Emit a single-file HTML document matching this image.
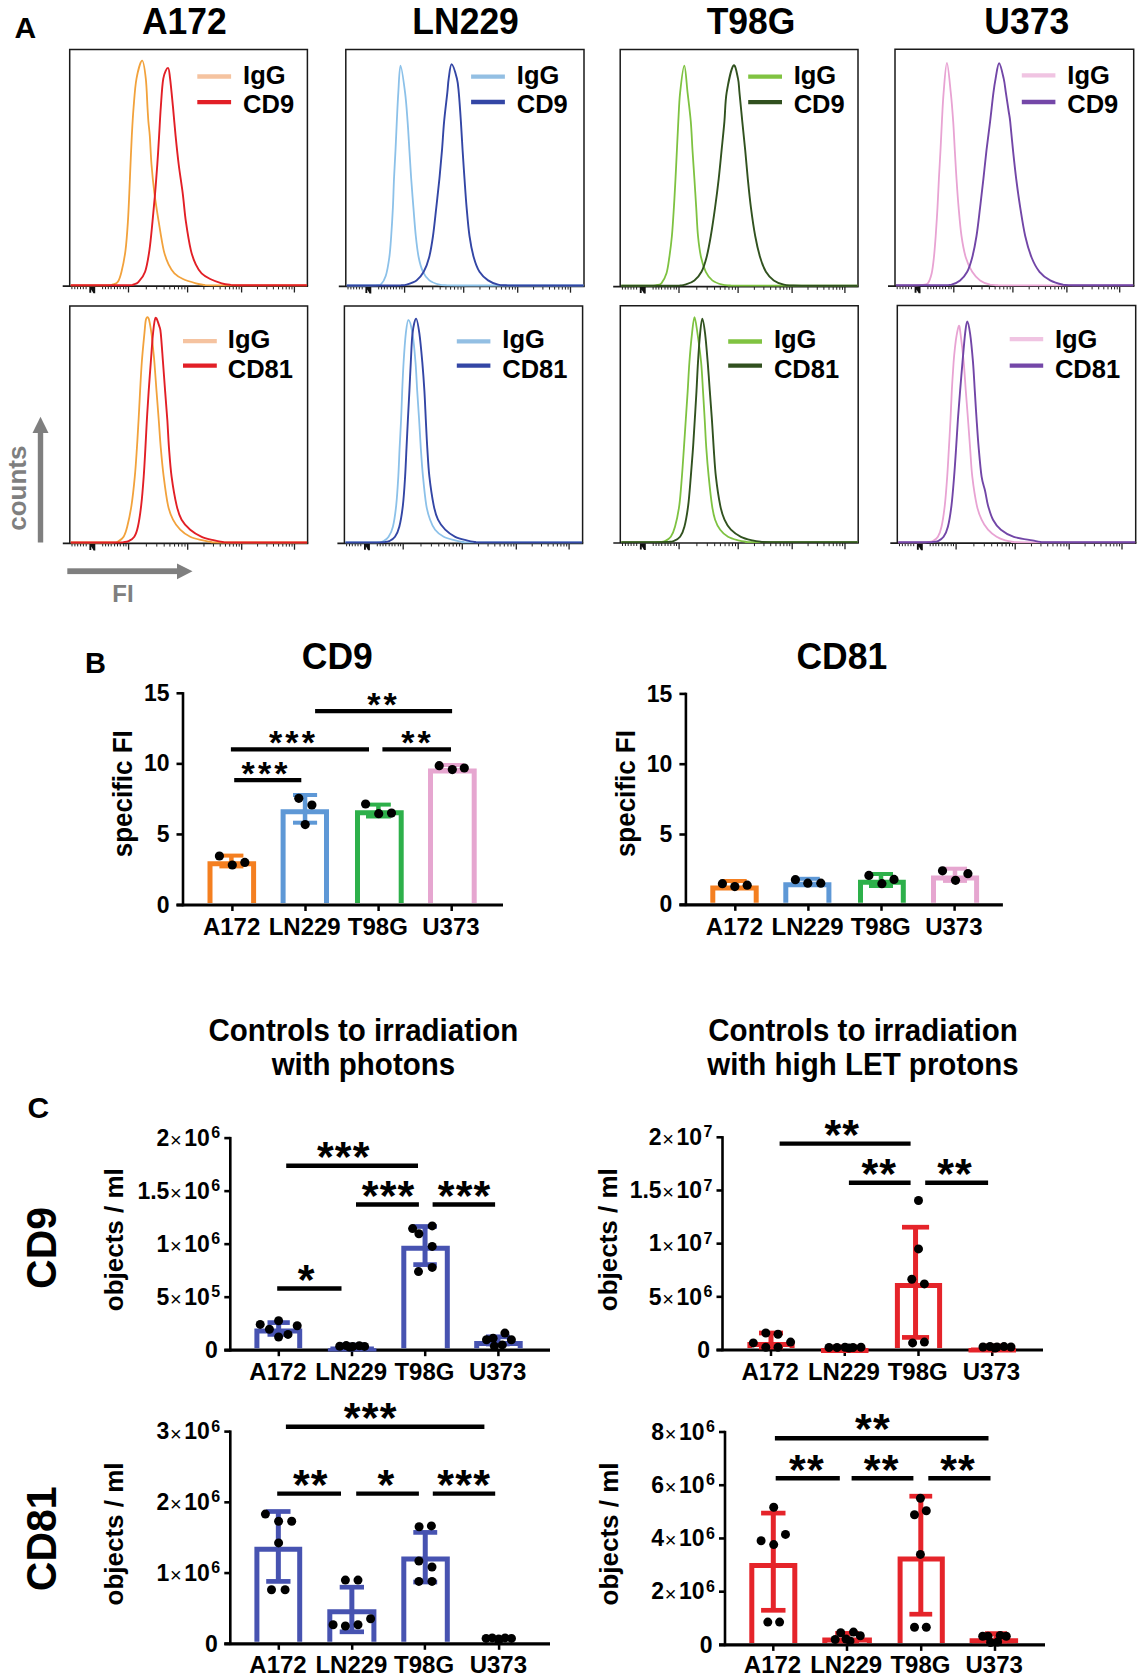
<!DOCTYPE html>
<html><head><meta charset="utf-8"><title>Figure</title>
<style>
html,body{margin:0;padding:0;background:#fff;}
body{width:1144px;height:1677px;overflow:hidden;}
svg{display:block;}
text{font-family:"Liberation Sans",sans-serif;}
</style></head>
<body>
<svg width="1144" height="1677" viewBox="0 0 1144 1677">
<rect width="1144" height="1677" fill="#fff"/>
<text transform="translate(14.50,38.00) scale(1,1.0)" font-size="30" font-weight="bold" text-anchor="start" fill="#000" >A</text>
<text transform="translate(184.30,34.20) scale(1,1.035)" font-size="35.5" font-weight="bold" text-anchor="middle" fill="#000" >A172</text>
<text transform="translate(465.60,34.20) scale(1,1.035)" font-size="35.5" font-weight="bold" text-anchor="middle" fill="#000" >LN229</text>
<text transform="translate(751.00,34.20) scale(1,1.035)" font-size="35.5" font-weight="bold" text-anchor="middle" fill="#000" >T98G</text>
<text transform="translate(1026.70,34.20) scale(1,1.035)" font-size="35.5" font-weight="bold" text-anchor="middle" fill="#000" >U373</text>
<path d="M69.70,286.20 L69.70,49.40 L307.40,49.40 L307.40,286.20" fill="none" stroke="#1a1a1a" stroke-width="1.5"/>
<line x1="62.70" y1="286.20" x2="308.10" y2="286.20" stroke="#1a1a1a" stroke-width="1.7" stroke-linecap="butt"/>
<line x1="128.50" y1="286.20" x2="128.50" y2="292.50" stroke="#222" stroke-width="1.3" stroke-linecap="butt"/>
<line x1="187.60" y1="286.20" x2="187.60" y2="292.50" stroke="#222" stroke-width="1.3" stroke-linecap="butt"/>
<line x1="241.60" y1="286.20" x2="241.60" y2="292.50" stroke="#222" stroke-width="1.3" stroke-linecap="butt"/>
<line x1="294.40" y1="286.20" x2="294.40" y2="292.50" stroke="#222" stroke-width="1.3" stroke-linecap="butt"/>
<line x1="146.29" y1="286.20" x2="146.29" y2="289.40" stroke="#222" stroke-width="1.0" stroke-linecap="butt"/>
<line x1="156.70" y1="286.20" x2="156.70" y2="289.40" stroke="#222" stroke-width="1.0" stroke-linecap="butt"/>
<line x1="164.08" y1="286.20" x2="164.08" y2="289.40" stroke="#222" stroke-width="1.0" stroke-linecap="butt"/>
<line x1="169.81" y1="286.20" x2="169.81" y2="289.40" stroke="#222" stroke-width="1.0" stroke-linecap="butt"/>
<line x1="174.49" y1="286.20" x2="174.49" y2="289.40" stroke="#222" stroke-width="1.0" stroke-linecap="butt"/>
<line x1="178.45" y1="286.20" x2="178.45" y2="289.40" stroke="#222" stroke-width="1.0" stroke-linecap="butt"/>
<line x1="181.87" y1="286.20" x2="181.87" y2="289.40" stroke="#222" stroke-width="1.0" stroke-linecap="butt"/>
<line x1="184.90" y1="286.20" x2="184.90" y2="289.40" stroke="#222" stroke-width="1.0" stroke-linecap="butt"/>
<line x1="203.86" y1="286.20" x2="203.86" y2="289.40" stroke="#222" stroke-width="1.0" stroke-linecap="butt"/>
<line x1="213.36" y1="286.20" x2="213.36" y2="289.40" stroke="#222" stroke-width="1.0" stroke-linecap="butt"/>
<line x1="220.11" y1="286.20" x2="220.11" y2="289.40" stroke="#222" stroke-width="1.0" stroke-linecap="butt"/>
<line x1="225.34" y1="286.20" x2="225.34" y2="289.40" stroke="#222" stroke-width="1.0" stroke-linecap="butt"/>
<line x1="229.62" y1="286.20" x2="229.62" y2="289.40" stroke="#222" stroke-width="1.0" stroke-linecap="butt"/>
<line x1="233.24" y1="286.20" x2="233.24" y2="289.40" stroke="#222" stroke-width="1.0" stroke-linecap="butt"/>
<line x1="236.37" y1="286.20" x2="236.37" y2="289.40" stroke="#222" stroke-width="1.0" stroke-linecap="butt"/>
<line x1="239.13" y1="286.20" x2="239.13" y2="289.40" stroke="#222" stroke-width="1.0" stroke-linecap="butt"/>
<line x1="257.49" y1="286.20" x2="257.49" y2="289.40" stroke="#222" stroke-width="1.0" stroke-linecap="butt"/>
<line x1="266.79" y1="286.20" x2="266.79" y2="289.40" stroke="#222" stroke-width="1.0" stroke-linecap="butt"/>
<line x1="273.39" y1="286.20" x2="273.39" y2="289.40" stroke="#222" stroke-width="1.0" stroke-linecap="butt"/>
<line x1="278.51" y1="286.20" x2="278.51" y2="289.40" stroke="#222" stroke-width="1.0" stroke-linecap="butt"/>
<line x1="282.69" y1="286.20" x2="282.69" y2="289.40" stroke="#222" stroke-width="1.0" stroke-linecap="butt"/>
<line x1="286.22" y1="286.20" x2="286.22" y2="289.40" stroke="#222" stroke-width="1.0" stroke-linecap="butt"/>
<line x1="289.28" y1="286.20" x2="289.28" y2="289.40" stroke="#222" stroke-width="1.0" stroke-linecap="butt"/>
<line x1="291.98" y1="286.20" x2="291.98" y2="289.40" stroke="#222" stroke-width="1.0" stroke-linecap="butt"/>
<line x1="71.90" y1="286.20" x2="71.90" y2="289.20" stroke="#222" stroke-width="1.0" stroke-linecap="butt"/>
<line x1="74.80" y1="286.20" x2="74.80" y2="289.20" stroke="#222" stroke-width="1.0" stroke-linecap="butt"/>
<line x1="77.60" y1="286.20" x2="77.60" y2="289.20" stroke="#222" stroke-width="1.0" stroke-linecap="butt"/>
<line x1="80.50" y1="286.20" x2="80.50" y2="289.20" stroke="#222" stroke-width="1.0" stroke-linecap="butt"/>
<line x1="83.30" y1="286.20" x2="83.30" y2="289.20" stroke="#222" stroke-width="1.0" stroke-linecap="butt"/>
<line x1="86.10" y1="286.20" x2="86.10" y2="289.20" stroke="#222" stroke-width="1.0" stroke-linecap="butt"/>
<line x1="102.60" y1="286.20" x2="102.60" y2="289.20" stroke="#222" stroke-width="1.0" stroke-linecap="butt"/>
<line x1="105.50" y1="286.20" x2="105.50" y2="289.20" stroke="#222" stroke-width="1.0" stroke-linecap="butt"/>
<line x1="108.30" y1="286.20" x2="108.30" y2="289.20" stroke="#222" stroke-width="1.0" stroke-linecap="butt"/>
<line x1="111.10" y1="286.20" x2="111.10" y2="289.20" stroke="#222" stroke-width="1.0" stroke-linecap="butt"/>
<line x1="114.50" y1="286.20" x2="114.50" y2="289.20" stroke="#222" stroke-width="1.0" stroke-linecap="butt"/>
<line x1="117.40" y1="286.20" x2="117.40" y2="289.20" stroke="#222" stroke-width="1.0" stroke-linecap="butt"/>
<line x1="120.20" y1="286.20" x2="120.20" y2="289.20" stroke="#222" stroke-width="1.0" stroke-linecap="butt"/>
<line x1="123.60" y1="286.20" x2="123.60" y2="289.20" stroke="#222" stroke-width="1.0" stroke-linecap="butt"/>
<line x1="125.90" y1="286.20" x2="125.90" y2="289.20" stroke="#222" stroke-width="1.0" stroke-linecap="butt"/>
<polygon points="89.30,286.70 95.20,286.70 95.20,293.20 93.40,293.20 91.20,289.40 91.20,292.70 89.30,292.70" fill="#111"/>
<path d="M70.70,285.30 C76.57,285.30 98.87,285.30 105.90,285.30 C112.93,285.15 110.90,285.01 112.90,284.43 C114.90,283.84 116.47,283.90 117.90,281.80 C119.33,279.70 120.23,277.03 121.50,271.80 C122.77,266.57 124.43,258.75 125.50,250.40 C126.57,242.05 127.27,231.25 127.90,221.70 C128.53,212.15 128.87,202.63 129.30,193.10 C129.73,183.57 130.08,174.03 130.50,164.50 C130.92,154.97 131.28,145.45 131.80,135.90 C132.32,126.35 132.82,116.75 133.60,107.20 C134.38,97.65 135.07,86.35 136.50,78.60 C137.93,70.85 140.65,60.70 142.20,60.70 C143.75,60.70 144.92,70.85 145.80,78.60 C146.68,86.35 147.07,100.03 147.50,107.20 C147.93,114.37 148.02,116.82 148.40,121.60 C148.78,126.38 149.28,128.75 149.80,135.90 C150.32,143.05 150.73,154.97 151.50,164.50 C152.27,174.03 153.20,183.57 154.40,193.10 C155.60,202.63 157.15,212.15 158.70,221.70 C160.25,231.25 162.03,243.23 163.70,250.40 C165.37,257.57 166.92,260.88 168.70,264.70 C170.48,268.52 172.02,270.92 174.40,273.30 C176.78,275.68 179.42,277.33 183.00,279.00 C186.58,280.67 192.42,282.33 195.90,283.30 C199.38,284.27 200.90,284.47 203.90,284.80 C206.90,285.13 196.73,285.22 213.90,285.30 C231.07,285.30 291.40,285.30 306.90,285.30" fill="none" stroke="#F2A23C" stroke-width="1.8" stroke-linejoin="round"/>
<path d="M70.70,285.30 C80.02,285.30 116.12,285.30 126.60,285.30 C137.08,285.15 131.60,285.01 133.60,284.43 C135.60,283.84 136.68,283.90 138.60,281.80 C140.52,279.70 143.30,277.03 145.10,271.80 C146.90,266.57 148.17,258.75 149.40,250.40 C150.63,242.05 151.55,231.25 152.50,221.70 C153.45,212.15 154.30,202.63 155.10,193.10 C155.90,183.57 156.63,174.03 157.30,164.50 C157.97,154.97 158.52,145.45 159.10,135.90 C159.68,126.35 160.10,116.75 160.80,107.20 C161.50,97.65 162.10,85.15 163.30,78.60 C164.50,72.05 166.87,67.90 168.00,67.90 C169.13,67.90 169.27,72.05 170.10,78.60 C170.93,85.15 172.08,97.65 173.00,107.20 C173.92,116.75 174.65,126.35 175.60,135.90 C176.55,145.45 177.52,154.97 178.70,164.50 C179.88,174.03 181.50,183.57 182.70,193.10 C183.90,202.63 184.53,212.15 185.90,221.70 C187.27,231.25 189.23,243.23 190.90,250.40 C192.57,257.57 194.12,260.88 195.90,264.70 C197.68,268.52 199.22,270.92 201.60,273.30 C203.98,275.68 206.85,277.33 210.20,279.00 C213.55,280.67 218.45,282.33 221.70,283.30 C224.95,284.27 226.70,284.47 229.70,284.80 C232.70,285.13 226.83,285.22 239.70,285.30 C252.57,285.30 295.70,285.30 306.90,285.30" fill="none" stroke="#E21F26" stroke-width="1.9" stroke-linejoin="round"/>
<line x1="197.30" y1="76.50" x2="231.10" y2="76.50" stroke="#F5C3A0" stroke-width="4.3" stroke-linecap="butt"/>
<line x1="197.30" y1="102.10" x2="231.10" y2="102.10" stroke="#E21F26" stroke-width="4.3" stroke-linecap="butt"/>
<text transform="translate(243.10,84.10) scale(1,1.035)" font-size="25.5" font-weight="bold" text-anchor="start" fill="#000" >IgG</text>
<text transform="translate(243.10,112.70) scale(1,1.035)" font-size="25.5" font-weight="bold" text-anchor="start" fill="#000" >CD9</text>
<path d="M345.80,286.40 L345.80,49.40 L584.00,49.40 L584.00,286.40" fill="none" stroke="#1a1a1a" stroke-width="1.5"/>
<line x1="338.80" y1="286.40" x2="584.70" y2="286.40" stroke="#1a1a1a" stroke-width="1.7" stroke-linecap="butt"/>
<line x1="404.60" y1="286.40" x2="404.60" y2="292.70" stroke="#222" stroke-width="1.3" stroke-linecap="butt"/>
<line x1="463.70" y1="286.40" x2="463.70" y2="292.70" stroke="#222" stroke-width="1.3" stroke-linecap="butt"/>
<line x1="517.70" y1="286.40" x2="517.70" y2="292.70" stroke="#222" stroke-width="1.3" stroke-linecap="butt"/>
<line x1="570.50" y1="286.40" x2="570.50" y2="292.70" stroke="#222" stroke-width="1.3" stroke-linecap="butt"/>
<line x1="422.39" y1="286.40" x2="422.39" y2="289.60" stroke="#222" stroke-width="1.0" stroke-linecap="butt"/>
<line x1="432.80" y1="286.40" x2="432.80" y2="289.60" stroke="#222" stroke-width="1.0" stroke-linecap="butt"/>
<line x1="440.18" y1="286.40" x2="440.18" y2="289.60" stroke="#222" stroke-width="1.0" stroke-linecap="butt"/>
<line x1="445.91" y1="286.40" x2="445.91" y2="289.60" stroke="#222" stroke-width="1.0" stroke-linecap="butt"/>
<line x1="450.59" y1="286.40" x2="450.59" y2="289.60" stroke="#222" stroke-width="1.0" stroke-linecap="butt"/>
<line x1="454.55" y1="286.40" x2="454.55" y2="289.60" stroke="#222" stroke-width="1.0" stroke-linecap="butt"/>
<line x1="457.97" y1="286.40" x2="457.97" y2="289.60" stroke="#222" stroke-width="1.0" stroke-linecap="butt"/>
<line x1="461.00" y1="286.40" x2="461.00" y2="289.60" stroke="#222" stroke-width="1.0" stroke-linecap="butt"/>
<line x1="479.96" y1="286.40" x2="479.96" y2="289.60" stroke="#222" stroke-width="1.0" stroke-linecap="butt"/>
<line x1="489.46" y1="286.40" x2="489.46" y2="289.60" stroke="#222" stroke-width="1.0" stroke-linecap="butt"/>
<line x1="496.21" y1="286.40" x2="496.21" y2="289.60" stroke="#222" stroke-width="1.0" stroke-linecap="butt"/>
<line x1="501.44" y1="286.40" x2="501.44" y2="289.60" stroke="#222" stroke-width="1.0" stroke-linecap="butt"/>
<line x1="505.72" y1="286.40" x2="505.72" y2="289.60" stroke="#222" stroke-width="1.0" stroke-linecap="butt"/>
<line x1="509.34" y1="286.40" x2="509.34" y2="289.60" stroke="#222" stroke-width="1.0" stroke-linecap="butt"/>
<line x1="512.47" y1="286.40" x2="512.47" y2="289.60" stroke="#222" stroke-width="1.0" stroke-linecap="butt"/>
<line x1="515.23" y1="286.40" x2="515.23" y2="289.60" stroke="#222" stroke-width="1.0" stroke-linecap="butt"/>
<line x1="533.59" y1="286.40" x2="533.59" y2="289.60" stroke="#222" stroke-width="1.0" stroke-linecap="butt"/>
<line x1="542.89" y1="286.40" x2="542.89" y2="289.60" stroke="#222" stroke-width="1.0" stroke-linecap="butt"/>
<line x1="549.49" y1="286.40" x2="549.49" y2="289.60" stroke="#222" stroke-width="1.0" stroke-linecap="butt"/>
<line x1="554.61" y1="286.40" x2="554.61" y2="289.60" stroke="#222" stroke-width="1.0" stroke-linecap="butt"/>
<line x1="558.79" y1="286.40" x2="558.79" y2="289.60" stroke="#222" stroke-width="1.0" stroke-linecap="butt"/>
<line x1="562.32" y1="286.40" x2="562.32" y2="289.60" stroke="#222" stroke-width="1.0" stroke-linecap="butt"/>
<line x1="565.38" y1="286.40" x2="565.38" y2="289.60" stroke="#222" stroke-width="1.0" stroke-linecap="butt"/>
<line x1="568.08" y1="286.40" x2="568.08" y2="289.60" stroke="#222" stroke-width="1.0" stroke-linecap="butt"/>
<line x1="348.00" y1="286.40" x2="348.00" y2="289.40" stroke="#222" stroke-width="1.0" stroke-linecap="butt"/>
<line x1="350.90" y1="286.40" x2="350.90" y2="289.40" stroke="#222" stroke-width="1.0" stroke-linecap="butt"/>
<line x1="353.70" y1="286.40" x2="353.70" y2="289.40" stroke="#222" stroke-width="1.0" stroke-linecap="butt"/>
<line x1="356.60" y1="286.40" x2="356.60" y2="289.40" stroke="#222" stroke-width="1.0" stroke-linecap="butt"/>
<line x1="359.40" y1="286.40" x2="359.40" y2="289.40" stroke="#222" stroke-width="1.0" stroke-linecap="butt"/>
<line x1="362.20" y1="286.40" x2="362.20" y2="289.40" stroke="#222" stroke-width="1.0" stroke-linecap="butt"/>
<line x1="378.70" y1="286.40" x2="378.70" y2="289.40" stroke="#222" stroke-width="1.0" stroke-linecap="butt"/>
<line x1="381.60" y1="286.40" x2="381.60" y2="289.40" stroke="#222" stroke-width="1.0" stroke-linecap="butt"/>
<line x1="384.40" y1="286.40" x2="384.40" y2="289.40" stroke="#222" stroke-width="1.0" stroke-linecap="butt"/>
<line x1="387.20" y1="286.40" x2="387.20" y2="289.40" stroke="#222" stroke-width="1.0" stroke-linecap="butt"/>
<line x1="390.60" y1="286.40" x2="390.60" y2="289.40" stroke="#222" stroke-width="1.0" stroke-linecap="butt"/>
<line x1="393.50" y1="286.40" x2="393.50" y2="289.40" stroke="#222" stroke-width="1.0" stroke-linecap="butt"/>
<line x1="396.30" y1="286.40" x2="396.30" y2="289.40" stroke="#222" stroke-width="1.0" stroke-linecap="butt"/>
<line x1="399.70" y1="286.40" x2="399.70" y2="289.40" stroke="#222" stroke-width="1.0" stroke-linecap="butt"/>
<line x1="402.00" y1="286.40" x2="402.00" y2="289.40" stroke="#222" stroke-width="1.0" stroke-linecap="butt"/>
<polygon points="365.40,286.90 371.30,286.90 371.30,293.40 369.50,293.40 367.30,289.60 367.30,292.90 365.40,292.90" fill="#111"/>
<path d="M346.80,285.50 C350.45,285.50 363.88,285.50 368.70,285.50 C373.52,285.47 373.70,285.43 375.70,285.30 C377.70,285.17 379.03,285.50 380.70,284.70 C382.37,283.17 384.27,280.63 385.70,276.10 C387.13,271.57 388.38,264.18 389.30,257.50 C390.22,250.82 390.60,244.35 391.20,236.00 C391.80,227.65 392.43,216.93 392.90,207.40 C393.37,197.87 393.57,188.33 394.00,178.80 C394.43,169.27 395.03,159.73 395.50,150.20 C395.97,140.67 396.33,131.15 396.80,121.60 C397.27,112.05 397.68,102.22 398.30,92.90 C398.92,83.58 399.37,65.70 400.50,65.70 C401.63,65.70 403.92,83.58 405.10,92.90 C406.28,102.22 406.88,112.05 407.60,121.60 C408.32,131.15 408.80,140.67 409.40,150.20 C410.00,159.73 410.53,169.27 411.20,178.80 C411.87,188.33 412.63,197.87 413.40,207.40 C414.17,216.93 414.92,227.65 415.80,236.00 C416.68,244.35 417.50,251.53 418.70,257.50 C419.90,263.47 421.22,267.98 423.00,271.80 C424.78,275.62 426.67,278.25 429.40,280.40 C432.13,282.55 436.40,283.88 439.40,284.70 C442.40,285.50 444.40,285.17 447.40,285.30 C450.40,285.43 434.72,285.47 457.40,285.50 C480.08,285.50 562.48,285.50 583.50,285.50" fill="none" stroke="#8CC1E9" stroke-width="1.8" stroke-linejoin="round"/>
<path d="M346.80,285.50 C354.75,285.50 385.38,285.50 394.50,285.50 C403.62,285.47 399.50,285.43 401.50,285.30 C403.50,285.17 404.00,285.50 406.50,284.70 C409.00,283.88 413.63,282.55 416.50,280.40 C419.37,278.25 421.60,275.62 423.70,271.80 C425.80,267.98 427.55,263.47 429.10,257.50 C430.65,251.53 431.80,244.35 433.00,236.00 C434.20,227.65 435.23,216.93 436.30,207.40 C437.37,197.87 438.45,188.33 439.40,178.80 C440.35,169.27 441.22,159.73 442.00,150.20 C442.78,140.67 443.22,131.15 444.10,121.60 C444.98,112.05 446.53,100.07 447.30,92.90 C448.07,85.73 447.98,83.37 448.70,78.60 C449.42,73.83 450.23,64.30 451.60,64.30 C452.97,64.30 455.70,73.83 456.90,78.60 C458.10,83.37 458.13,85.73 458.80,92.90 C459.47,100.07 460.27,112.05 460.90,121.60 C461.53,131.15 462.00,140.67 462.60,150.20 C463.20,159.73 463.83,169.27 464.50,178.80 C465.17,188.33 465.77,197.87 466.60,207.40 C467.43,216.93 468.30,227.65 469.50,236.00 C470.70,244.35 472.13,251.53 473.80,257.50 C475.47,263.47 477.12,267.98 479.50,271.80 C481.88,275.62 485.00,278.25 488.10,280.40 C491.20,282.55 495.10,283.88 498.10,284.70 C501.10,285.50 503.10,285.17 506.10,285.30 C509.10,285.43 503.20,285.47 516.10,285.50 C529.00,285.50 572.27,285.50 583.50,285.50" fill="none" stroke="#3346A5" stroke-width="1.9" stroke-linejoin="round"/>
<line x1="471.10" y1="76.60" x2="504.90" y2="76.60" stroke="#93BFE3" stroke-width="4.3" stroke-linecap="butt"/>
<line x1="471.10" y1="102.00" x2="504.90" y2="102.00" stroke="#3346A5" stroke-width="4.3" stroke-linecap="butt"/>
<text transform="translate(516.80,84.10) scale(1,1.035)" font-size="25.5" font-weight="bold" text-anchor="start" fill="#000" >IgG</text>
<text transform="translate(516.80,112.70) scale(1,1.035)" font-size="25.5" font-weight="bold" text-anchor="start" fill="#000" >CD9</text>
<path d="M620.20,286.60 L620.20,49.40 L858.00,49.40 L858.00,286.60" fill="none" stroke="#1a1a1a" stroke-width="1.5"/>
<line x1="613.20" y1="286.60" x2="858.70" y2="286.60" stroke="#1a1a1a" stroke-width="1.7" stroke-linecap="butt"/>
<line x1="679.00" y1="286.60" x2="679.00" y2="292.90" stroke="#222" stroke-width="1.3" stroke-linecap="butt"/>
<line x1="738.10" y1="286.60" x2="738.10" y2="292.90" stroke="#222" stroke-width="1.3" stroke-linecap="butt"/>
<line x1="792.10" y1="286.60" x2="792.10" y2="292.90" stroke="#222" stroke-width="1.3" stroke-linecap="butt"/>
<line x1="844.90" y1="286.60" x2="844.90" y2="292.90" stroke="#222" stroke-width="1.3" stroke-linecap="butt"/>
<line x1="696.79" y1="286.60" x2="696.79" y2="289.80" stroke="#222" stroke-width="1.0" stroke-linecap="butt"/>
<line x1="707.20" y1="286.60" x2="707.20" y2="289.80" stroke="#222" stroke-width="1.0" stroke-linecap="butt"/>
<line x1="714.58" y1="286.60" x2="714.58" y2="289.80" stroke="#222" stroke-width="1.0" stroke-linecap="butt"/>
<line x1="720.31" y1="286.60" x2="720.31" y2="289.80" stroke="#222" stroke-width="1.0" stroke-linecap="butt"/>
<line x1="724.99" y1="286.60" x2="724.99" y2="289.80" stroke="#222" stroke-width="1.0" stroke-linecap="butt"/>
<line x1="728.95" y1="286.60" x2="728.95" y2="289.80" stroke="#222" stroke-width="1.0" stroke-linecap="butt"/>
<line x1="732.37" y1="286.60" x2="732.37" y2="289.80" stroke="#222" stroke-width="1.0" stroke-linecap="butt"/>
<line x1="735.40" y1="286.60" x2="735.40" y2="289.80" stroke="#222" stroke-width="1.0" stroke-linecap="butt"/>
<line x1="754.36" y1="286.60" x2="754.36" y2="289.80" stroke="#222" stroke-width="1.0" stroke-linecap="butt"/>
<line x1="763.86" y1="286.60" x2="763.86" y2="289.80" stroke="#222" stroke-width="1.0" stroke-linecap="butt"/>
<line x1="770.61" y1="286.60" x2="770.61" y2="289.80" stroke="#222" stroke-width="1.0" stroke-linecap="butt"/>
<line x1="775.84" y1="286.60" x2="775.84" y2="289.80" stroke="#222" stroke-width="1.0" stroke-linecap="butt"/>
<line x1="780.12" y1="286.60" x2="780.12" y2="289.80" stroke="#222" stroke-width="1.0" stroke-linecap="butt"/>
<line x1="783.74" y1="286.60" x2="783.74" y2="289.80" stroke="#222" stroke-width="1.0" stroke-linecap="butt"/>
<line x1="786.87" y1="286.60" x2="786.87" y2="289.80" stroke="#222" stroke-width="1.0" stroke-linecap="butt"/>
<line x1="789.63" y1="286.60" x2="789.63" y2="289.80" stroke="#222" stroke-width="1.0" stroke-linecap="butt"/>
<line x1="807.99" y1="286.60" x2="807.99" y2="289.80" stroke="#222" stroke-width="1.0" stroke-linecap="butt"/>
<line x1="817.29" y1="286.60" x2="817.29" y2="289.80" stroke="#222" stroke-width="1.0" stroke-linecap="butt"/>
<line x1="823.89" y1="286.60" x2="823.89" y2="289.80" stroke="#222" stroke-width="1.0" stroke-linecap="butt"/>
<line x1="829.01" y1="286.60" x2="829.01" y2="289.80" stroke="#222" stroke-width="1.0" stroke-linecap="butt"/>
<line x1="833.19" y1="286.60" x2="833.19" y2="289.80" stroke="#222" stroke-width="1.0" stroke-linecap="butt"/>
<line x1="836.72" y1="286.60" x2="836.72" y2="289.80" stroke="#222" stroke-width="1.0" stroke-linecap="butt"/>
<line x1="839.78" y1="286.60" x2="839.78" y2="289.80" stroke="#222" stroke-width="1.0" stroke-linecap="butt"/>
<line x1="842.48" y1="286.60" x2="842.48" y2="289.80" stroke="#222" stroke-width="1.0" stroke-linecap="butt"/>
<line x1="622.40" y1="286.60" x2="622.40" y2="289.60" stroke="#222" stroke-width="1.0" stroke-linecap="butt"/>
<line x1="625.30" y1="286.60" x2="625.30" y2="289.60" stroke="#222" stroke-width="1.0" stroke-linecap="butt"/>
<line x1="628.10" y1="286.60" x2="628.10" y2="289.60" stroke="#222" stroke-width="1.0" stroke-linecap="butt"/>
<line x1="631.00" y1="286.60" x2="631.00" y2="289.60" stroke="#222" stroke-width="1.0" stroke-linecap="butt"/>
<line x1="633.80" y1="286.60" x2="633.80" y2="289.60" stroke="#222" stroke-width="1.0" stroke-linecap="butt"/>
<line x1="636.60" y1="286.60" x2="636.60" y2="289.60" stroke="#222" stroke-width="1.0" stroke-linecap="butt"/>
<line x1="653.10" y1="286.60" x2="653.10" y2="289.60" stroke="#222" stroke-width="1.0" stroke-linecap="butt"/>
<line x1="656.00" y1="286.60" x2="656.00" y2="289.60" stroke="#222" stroke-width="1.0" stroke-linecap="butt"/>
<line x1="658.80" y1="286.60" x2="658.80" y2="289.60" stroke="#222" stroke-width="1.0" stroke-linecap="butt"/>
<line x1="661.60" y1="286.60" x2="661.60" y2="289.60" stroke="#222" stroke-width="1.0" stroke-linecap="butt"/>
<line x1="665.00" y1="286.60" x2="665.00" y2="289.60" stroke="#222" stroke-width="1.0" stroke-linecap="butt"/>
<line x1="667.90" y1="286.60" x2="667.90" y2="289.60" stroke="#222" stroke-width="1.0" stroke-linecap="butt"/>
<line x1="670.70" y1="286.60" x2="670.70" y2="289.60" stroke="#222" stroke-width="1.0" stroke-linecap="butt"/>
<line x1="674.10" y1="286.60" x2="674.10" y2="289.60" stroke="#222" stroke-width="1.0" stroke-linecap="butt"/>
<line x1="676.40" y1="286.60" x2="676.40" y2="289.60" stroke="#222" stroke-width="1.0" stroke-linecap="butt"/>
<polygon points="639.80,287.10 645.70,287.10 645.70,293.60 643.90,293.60 641.70,289.80 641.70,293.10 639.80,293.10" fill="#111"/>
<path d="M621.20,285.70 C625.90,285.70 643.53,285.70 649.40,285.70 C655.27,285.60 654.40,285.50 656.40,285.10 C658.40,284.70 659.72,285.27 661.40,283.30 C663.08,281.33 665.18,277.60 666.50,273.30 C667.82,269.00 668.40,263.72 669.30,257.50 C670.20,251.28 671.13,244.35 671.90,236.00 C672.67,227.65 673.30,216.93 673.90,207.40 C674.50,197.87 675.00,188.33 675.50,178.80 C676.00,169.27 676.43,159.73 676.90,150.20 C677.37,140.67 677.77,131.15 678.30,121.60 C678.83,112.05 679.10,102.22 680.10,92.90 C681.10,83.58 683.05,65.70 684.30,65.70 C685.55,65.70 686.52,83.58 687.60,92.90 C688.68,102.22 689.98,112.05 690.80,121.60 C691.62,131.15 691.90,140.67 692.50,150.20 C693.10,159.73 693.78,169.27 694.40,178.80 C695.02,188.33 695.60,197.87 696.20,207.40 C696.80,216.93 697.18,227.65 698.00,236.00 C698.82,244.35 699.80,251.53 701.10,257.50 C702.40,263.47 703.93,267.98 705.80,271.80 C707.67,275.62 709.55,278.25 712.30,280.40 C715.05,282.55 719.30,283.86 722.30,284.70 C725.30,285.54 727.30,285.28 730.30,285.45 C733.30,285.62 719.10,285.66 740.30,285.70 C761.50,285.70 837.97,285.70 857.50,285.70" fill="none" stroke="#7EC241" stroke-width="1.8" stroke-linejoin="round"/>
<path d="M621.20,285.70 C629.85,285.70 663.28,285.70 673.10,285.70 C682.92,285.66 678.10,285.62 680.10,285.45 C682.10,285.28 682.72,285.54 685.10,284.70 C687.48,283.86 691.67,282.55 694.40,280.40 C697.13,278.25 699.48,275.62 701.50,271.80 C703.52,267.98 704.95,263.47 706.50,257.50 C708.05,251.53 709.37,244.35 710.80,236.00 C712.23,227.65 713.78,216.93 715.10,207.40 C716.42,197.87 717.62,188.33 718.70,178.80 C719.78,169.27 720.65,159.73 721.60,150.20 C722.55,140.67 723.57,131.15 724.40,121.60 C725.23,112.05 725.10,102.25 726.60,92.90 C728.10,83.55 731.50,67.88 733.40,65.50 C735.30,63.12 736.98,74.03 738.00,78.60 C739.02,83.17 738.78,85.73 739.50,92.90 C740.22,100.07 741.35,112.05 742.30,121.60 C743.25,131.15 744.28,140.67 745.20,150.20 C746.12,159.73 746.85,169.27 747.80,178.80 C748.75,188.33 749.67,197.87 750.90,207.40 C752.13,216.93 753.65,227.65 755.20,236.00 C756.75,244.35 758.42,251.53 760.20,257.50 C761.98,263.47 763.63,267.98 765.90,271.80 C768.17,275.62 770.82,278.25 773.80,280.40 C776.78,282.55 780.80,283.86 783.80,284.70 C786.80,285.54 788.80,285.28 791.80,285.45 C794.80,285.62 790.85,285.66 801.80,285.70 C812.75,285.70 848.22,285.70 857.50,285.70" fill="none" stroke="#31521F" stroke-width="1.9" stroke-linejoin="round"/>
<line x1="748.20" y1="76.70" x2="782.00" y2="76.70" stroke="#80C341" stroke-width="4.3" stroke-linecap="butt"/>
<line x1="748.20" y1="102.10" x2="782.00" y2="102.10" stroke="#31501F" stroke-width="4.3" stroke-linecap="butt"/>
<text transform="translate(793.70,84.10) scale(1,1.035)" font-size="25.5" font-weight="bold" text-anchor="start" fill="#000" >IgG</text>
<text transform="translate(793.70,112.70) scale(1,1.035)" font-size="25.5" font-weight="bold" text-anchor="start" fill="#000" >CD9</text>
<path d="M895.00,286.20 L895.00,49.30 L1133.70,49.30 L1133.70,286.20" fill="none" stroke="#1a1a1a" stroke-width="1.5"/>
<line x1="888.00" y1="286.20" x2="1134.40" y2="286.20" stroke="#1a1a1a" stroke-width="1.7" stroke-linecap="butt"/>
<line x1="953.80" y1="286.20" x2="953.80" y2="292.50" stroke="#222" stroke-width="1.3" stroke-linecap="butt"/>
<line x1="1012.90" y1="286.20" x2="1012.90" y2="292.50" stroke="#222" stroke-width="1.3" stroke-linecap="butt"/>
<line x1="1066.90" y1="286.20" x2="1066.90" y2="292.50" stroke="#222" stroke-width="1.3" stroke-linecap="butt"/>
<line x1="1119.70" y1="286.20" x2="1119.70" y2="292.50" stroke="#222" stroke-width="1.3" stroke-linecap="butt"/>
<line x1="971.59" y1="286.20" x2="971.59" y2="289.40" stroke="#222" stroke-width="1.0" stroke-linecap="butt"/>
<line x1="982.00" y1="286.20" x2="982.00" y2="289.40" stroke="#222" stroke-width="1.0" stroke-linecap="butt"/>
<line x1="989.38" y1="286.20" x2="989.38" y2="289.40" stroke="#222" stroke-width="1.0" stroke-linecap="butt"/>
<line x1="995.11" y1="286.20" x2="995.11" y2="289.40" stroke="#222" stroke-width="1.0" stroke-linecap="butt"/>
<line x1="999.79" y1="286.20" x2="999.79" y2="289.40" stroke="#222" stroke-width="1.0" stroke-linecap="butt"/>
<line x1="1003.75" y1="286.20" x2="1003.75" y2="289.40" stroke="#222" stroke-width="1.0" stroke-linecap="butt"/>
<line x1="1007.17" y1="286.20" x2="1007.17" y2="289.40" stroke="#222" stroke-width="1.0" stroke-linecap="butt"/>
<line x1="1010.20" y1="286.20" x2="1010.20" y2="289.40" stroke="#222" stroke-width="1.0" stroke-linecap="butt"/>
<line x1="1029.16" y1="286.20" x2="1029.16" y2="289.40" stroke="#222" stroke-width="1.0" stroke-linecap="butt"/>
<line x1="1038.66" y1="286.20" x2="1038.66" y2="289.40" stroke="#222" stroke-width="1.0" stroke-linecap="butt"/>
<line x1="1045.41" y1="286.20" x2="1045.41" y2="289.40" stroke="#222" stroke-width="1.0" stroke-linecap="butt"/>
<line x1="1050.64" y1="286.20" x2="1050.64" y2="289.40" stroke="#222" stroke-width="1.0" stroke-linecap="butt"/>
<line x1="1054.92" y1="286.20" x2="1054.92" y2="289.40" stroke="#222" stroke-width="1.0" stroke-linecap="butt"/>
<line x1="1058.54" y1="286.20" x2="1058.54" y2="289.40" stroke="#222" stroke-width="1.0" stroke-linecap="butt"/>
<line x1="1061.67" y1="286.20" x2="1061.67" y2="289.40" stroke="#222" stroke-width="1.0" stroke-linecap="butt"/>
<line x1="1064.43" y1="286.20" x2="1064.43" y2="289.40" stroke="#222" stroke-width="1.0" stroke-linecap="butt"/>
<line x1="1082.79" y1="286.20" x2="1082.79" y2="289.40" stroke="#222" stroke-width="1.0" stroke-linecap="butt"/>
<line x1="1092.09" y1="286.20" x2="1092.09" y2="289.40" stroke="#222" stroke-width="1.0" stroke-linecap="butt"/>
<line x1="1098.69" y1="286.20" x2="1098.69" y2="289.40" stroke="#222" stroke-width="1.0" stroke-linecap="butt"/>
<line x1="1103.81" y1="286.20" x2="1103.81" y2="289.40" stroke="#222" stroke-width="1.0" stroke-linecap="butt"/>
<line x1="1107.99" y1="286.20" x2="1107.99" y2="289.40" stroke="#222" stroke-width="1.0" stroke-linecap="butt"/>
<line x1="1111.52" y1="286.20" x2="1111.52" y2="289.40" stroke="#222" stroke-width="1.0" stroke-linecap="butt"/>
<line x1="1114.58" y1="286.20" x2="1114.58" y2="289.40" stroke="#222" stroke-width="1.0" stroke-linecap="butt"/>
<line x1="1117.28" y1="286.20" x2="1117.28" y2="289.40" stroke="#222" stroke-width="1.0" stroke-linecap="butt"/>
<line x1="897.20" y1="286.20" x2="897.20" y2="289.20" stroke="#222" stroke-width="1.0" stroke-linecap="butt"/>
<line x1="900.10" y1="286.20" x2="900.10" y2="289.20" stroke="#222" stroke-width="1.0" stroke-linecap="butt"/>
<line x1="902.90" y1="286.20" x2="902.90" y2="289.20" stroke="#222" stroke-width="1.0" stroke-linecap="butt"/>
<line x1="905.80" y1="286.20" x2="905.80" y2="289.20" stroke="#222" stroke-width="1.0" stroke-linecap="butt"/>
<line x1="908.60" y1="286.20" x2="908.60" y2="289.20" stroke="#222" stroke-width="1.0" stroke-linecap="butt"/>
<line x1="911.40" y1="286.20" x2="911.40" y2="289.20" stroke="#222" stroke-width="1.0" stroke-linecap="butt"/>
<line x1="927.90" y1="286.20" x2="927.90" y2="289.20" stroke="#222" stroke-width="1.0" stroke-linecap="butt"/>
<line x1="930.80" y1="286.20" x2="930.80" y2="289.20" stroke="#222" stroke-width="1.0" stroke-linecap="butt"/>
<line x1="933.60" y1="286.20" x2="933.60" y2="289.20" stroke="#222" stroke-width="1.0" stroke-linecap="butt"/>
<line x1="936.40" y1="286.20" x2="936.40" y2="289.20" stroke="#222" stroke-width="1.0" stroke-linecap="butt"/>
<line x1="939.80" y1="286.20" x2="939.80" y2="289.20" stroke="#222" stroke-width="1.0" stroke-linecap="butt"/>
<line x1="942.70" y1="286.20" x2="942.70" y2="289.20" stroke="#222" stroke-width="1.0" stroke-linecap="butt"/>
<line x1="945.50" y1="286.20" x2="945.50" y2="289.20" stroke="#222" stroke-width="1.0" stroke-linecap="butt"/>
<line x1="948.90" y1="286.20" x2="948.90" y2="289.20" stroke="#222" stroke-width="1.0" stroke-linecap="butt"/>
<line x1="951.20" y1="286.20" x2="951.20" y2="289.20" stroke="#222" stroke-width="1.0" stroke-linecap="butt"/>
<polygon points="914.60,286.70 920.50,286.70 920.50,293.20 918.70,293.20 916.50,289.40 916.50,292.70 914.60,292.70" fill="#111"/>
<path d="M896.00,285.30 C899.32,285.30 911.42,285.30 915.90,285.30 C920.38,285.22 920.90,285.13 922.90,284.80 C924.90,284.47 926.43,285.22 927.90,283.30 C929.37,281.38 930.70,277.60 931.70,273.30 C932.70,269.00 933.23,263.72 933.90,257.50 C934.57,251.28 935.10,244.35 935.70,236.00 C936.30,227.65 936.97,216.93 937.50,207.40 C938.03,197.87 938.40,188.33 938.90,178.80 C939.40,169.27 940.00,159.73 940.50,150.20 C941.00,140.67 941.38,131.15 941.90,121.60 C942.42,112.05 942.77,102.68 943.60,92.90 C944.43,83.12 945.70,62.90 946.90,62.90 C948.10,62.90 949.75,83.12 950.80,92.90 C951.85,102.68 952.53,112.05 953.20,121.60 C953.87,131.15 954.25,140.67 954.80,150.20 C955.35,159.73 955.87,169.27 956.50,178.80 C957.13,188.33 957.77,197.87 958.60,207.40 C959.43,216.93 960.30,227.65 961.50,236.00 C962.70,244.35 964.02,251.53 965.80,257.50 C967.58,263.47 969.82,267.98 972.20,271.80 C974.58,275.62 977.12,278.25 980.10,280.40 C983.08,282.55 987.10,283.91 990.10,284.70 C993.10,285.30 995.10,285.05 998.10,285.15 C1001.10,285.25 985.58,285.27 1008.10,285.30 C1030.62,285.30 1112.35,285.30 1133.20,285.30" fill="none" stroke="#E8A3D3" stroke-width="1.8" stroke-linejoin="round"/>
<path d="M896.00,285.30 C903.25,285.30 931.08,285.30 939.50,285.30 C947.92,285.27 944.50,285.25 946.50,285.15 C948.50,285.05 949.23,285.30 951.50,284.70 C953.77,283.91 957.48,282.55 960.10,280.40 C962.72,278.25 965.18,275.62 967.20,271.80 C969.22,267.98 970.65,263.47 972.20,257.50 C973.75,251.53 975.18,244.35 976.50,236.00 C977.82,227.65 978.95,216.93 980.10,207.40 C981.25,197.87 982.33,188.33 983.40,178.80 C984.47,169.27 985.38,159.73 986.50,150.20 C987.62,140.67 988.95,131.15 990.10,121.60 C991.25,112.05 992.48,100.07 993.40,92.90 C994.32,85.73 994.65,83.55 995.60,78.60 C996.55,73.65 997.75,63.20 999.10,63.20 C1000.45,63.20 1002.57,73.65 1003.70,78.60 C1004.83,83.55 1005.07,87.42 1005.90,92.90 C1006.73,98.38 1007.98,106.72 1008.70,111.50 C1009.42,116.28 1009.48,115.15 1010.20,121.60 C1010.92,128.05 1012.00,140.67 1013.00,150.20 C1014.00,159.73 1015.00,169.27 1016.20,178.80 C1017.40,188.33 1018.70,197.87 1020.20,207.40 C1021.70,216.93 1023.30,227.65 1025.20,236.00 C1027.10,244.35 1029.22,251.53 1031.60,257.50 C1033.98,263.47 1036.40,267.98 1039.50,271.80 C1042.60,275.62 1046.27,278.25 1050.20,280.40 C1054.13,282.55 1059.62,283.91 1063.10,284.70 C1066.58,285.30 1068.10,285.05 1071.10,285.15 C1074.10,285.25 1070.75,285.27 1081.10,285.30 C1091.45,285.30 1124.52,285.30 1133.20,285.30" fill="none" stroke="#7246A7" stroke-width="1.9" stroke-linejoin="round"/>
<line x1="1021.80" y1="75.40" x2="1055.40" y2="75.40" stroke="#F0C4E2" stroke-width="4.3" stroke-linecap="butt"/>
<line x1="1021.80" y1="102.00" x2="1055.40" y2="102.00" stroke="#7447A8" stroke-width="4.3" stroke-linecap="butt"/>
<text transform="translate(1067.30,84.10) scale(1,1.035)" font-size="25.5" font-weight="bold" text-anchor="start" fill="#000" >IgG</text>
<text transform="translate(1067.30,112.70) scale(1,1.035)" font-size="25.5" font-weight="bold" text-anchor="start" fill="#000" >CD9</text>
<path d="M69.80,543.40 L69.80,305.90 L307.60,305.90 L307.60,543.40" fill="none" stroke="#1a1a1a" stroke-width="1.5"/>
<line x1="62.80" y1="543.40" x2="308.30" y2="543.40" stroke="#1a1a1a" stroke-width="1.7" stroke-linecap="butt"/>
<line x1="128.60" y1="543.40" x2="128.60" y2="549.70" stroke="#222" stroke-width="1.3" stroke-linecap="butt"/>
<line x1="187.70" y1="543.40" x2="187.70" y2="549.70" stroke="#222" stroke-width="1.3" stroke-linecap="butt"/>
<line x1="241.70" y1="543.40" x2="241.70" y2="549.70" stroke="#222" stroke-width="1.3" stroke-linecap="butt"/>
<line x1="294.50" y1="543.40" x2="294.50" y2="549.70" stroke="#222" stroke-width="1.3" stroke-linecap="butt"/>
<line x1="146.39" y1="543.40" x2="146.39" y2="546.60" stroke="#222" stroke-width="1.0" stroke-linecap="butt"/>
<line x1="156.80" y1="543.40" x2="156.80" y2="546.60" stroke="#222" stroke-width="1.0" stroke-linecap="butt"/>
<line x1="164.18" y1="543.40" x2="164.18" y2="546.60" stroke="#222" stroke-width="1.0" stroke-linecap="butt"/>
<line x1="169.91" y1="543.40" x2="169.91" y2="546.60" stroke="#222" stroke-width="1.0" stroke-linecap="butt"/>
<line x1="174.59" y1="543.40" x2="174.59" y2="546.60" stroke="#222" stroke-width="1.0" stroke-linecap="butt"/>
<line x1="178.55" y1="543.40" x2="178.55" y2="546.60" stroke="#222" stroke-width="1.0" stroke-linecap="butt"/>
<line x1="181.97" y1="543.40" x2="181.97" y2="546.60" stroke="#222" stroke-width="1.0" stroke-linecap="butt"/>
<line x1="185.00" y1="543.40" x2="185.00" y2="546.60" stroke="#222" stroke-width="1.0" stroke-linecap="butt"/>
<line x1="203.96" y1="543.40" x2="203.96" y2="546.60" stroke="#222" stroke-width="1.0" stroke-linecap="butt"/>
<line x1="213.46" y1="543.40" x2="213.46" y2="546.60" stroke="#222" stroke-width="1.0" stroke-linecap="butt"/>
<line x1="220.21" y1="543.40" x2="220.21" y2="546.60" stroke="#222" stroke-width="1.0" stroke-linecap="butt"/>
<line x1="225.44" y1="543.40" x2="225.44" y2="546.60" stroke="#222" stroke-width="1.0" stroke-linecap="butt"/>
<line x1="229.72" y1="543.40" x2="229.72" y2="546.60" stroke="#222" stroke-width="1.0" stroke-linecap="butt"/>
<line x1="233.34" y1="543.40" x2="233.34" y2="546.60" stroke="#222" stroke-width="1.0" stroke-linecap="butt"/>
<line x1="236.47" y1="543.40" x2="236.47" y2="546.60" stroke="#222" stroke-width="1.0" stroke-linecap="butt"/>
<line x1="239.23" y1="543.40" x2="239.23" y2="546.60" stroke="#222" stroke-width="1.0" stroke-linecap="butt"/>
<line x1="257.59" y1="543.40" x2="257.59" y2="546.60" stroke="#222" stroke-width="1.0" stroke-linecap="butt"/>
<line x1="266.89" y1="543.40" x2="266.89" y2="546.60" stroke="#222" stroke-width="1.0" stroke-linecap="butt"/>
<line x1="273.49" y1="543.40" x2="273.49" y2="546.60" stroke="#222" stroke-width="1.0" stroke-linecap="butt"/>
<line x1="278.61" y1="543.40" x2="278.61" y2="546.60" stroke="#222" stroke-width="1.0" stroke-linecap="butt"/>
<line x1="282.79" y1="543.40" x2="282.79" y2="546.60" stroke="#222" stroke-width="1.0" stroke-linecap="butt"/>
<line x1="286.32" y1="543.40" x2="286.32" y2="546.60" stroke="#222" stroke-width="1.0" stroke-linecap="butt"/>
<line x1="289.38" y1="543.40" x2="289.38" y2="546.60" stroke="#222" stroke-width="1.0" stroke-linecap="butt"/>
<line x1="292.08" y1="543.40" x2="292.08" y2="546.60" stroke="#222" stroke-width="1.0" stroke-linecap="butt"/>
<line x1="72.00" y1="543.40" x2="72.00" y2="546.40" stroke="#222" stroke-width="1.0" stroke-linecap="butt"/>
<line x1="74.90" y1="543.40" x2="74.90" y2="546.40" stroke="#222" stroke-width="1.0" stroke-linecap="butt"/>
<line x1="77.70" y1="543.40" x2="77.70" y2="546.40" stroke="#222" stroke-width="1.0" stroke-linecap="butt"/>
<line x1="80.60" y1="543.40" x2="80.60" y2="546.40" stroke="#222" stroke-width="1.0" stroke-linecap="butt"/>
<line x1="83.40" y1="543.40" x2="83.40" y2="546.40" stroke="#222" stroke-width="1.0" stroke-linecap="butt"/>
<line x1="86.20" y1="543.40" x2="86.20" y2="546.40" stroke="#222" stroke-width="1.0" stroke-linecap="butt"/>
<line x1="102.70" y1="543.40" x2="102.70" y2="546.40" stroke="#222" stroke-width="1.0" stroke-linecap="butt"/>
<line x1="105.60" y1="543.40" x2="105.60" y2="546.40" stroke="#222" stroke-width="1.0" stroke-linecap="butt"/>
<line x1="108.40" y1="543.40" x2="108.40" y2="546.40" stroke="#222" stroke-width="1.0" stroke-linecap="butt"/>
<line x1="111.20" y1="543.40" x2="111.20" y2="546.40" stroke="#222" stroke-width="1.0" stroke-linecap="butt"/>
<line x1="114.60" y1="543.40" x2="114.60" y2="546.40" stroke="#222" stroke-width="1.0" stroke-linecap="butt"/>
<line x1="117.50" y1="543.40" x2="117.50" y2="546.40" stroke="#222" stroke-width="1.0" stroke-linecap="butt"/>
<line x1="120.30" y1="543.40" x2="120.30" y2="546.40" stroke="#222" stroke-width="1.0" stroke-linecap="butt"/>
<line x1="123.70" y1="543.40" x2="123.70" y2="546.40" stroke="#222" stroke-width="1.0" stroke-linecap="butt"/>
<line x1="126.00" y1="543.40" x2="126.00" y2="546.40" stroke="#222" stroke-width="1.0" stroke-linecap="butt"/>
<polygon points="89.40,543.90 95.30,543.90 95.30,550.40 93.50,550.40 91.30,546.60 91.30,549.90 89.40,549.90" fill="#111"/>
<path d="M70.80,542.50 C77.60,542.50 103.63,542.50 111.60,542.50 C119.57,542.26 116.60,542.03 118.60,541.08 C120.60,540.12 122.17,539.18 123.60,536.80 C125.03,534.42 125.88,532.03 127.20,526.80 C128.52,521.57 130.23,513.75 131.50,505.40 C132.77,497.05 133.90,486.25 134.80,476.70 C135.70,467.15 136.27,457.63 136.90,448.10 C137.53,438.57 138.07,429.03 138.60,419.50 C139.13,409.97 139.57,400.45 140.10,390.90 C140.63,381.35 141.08,371.75 141.80,362.20 C142.52,352.65 143.70,340.75 144.40,333.60 C145.10,326.45 145.28,321.80 146.00,319.30 C146.72,316.80 147.78,316.22 148.70,318.60 C149.62,320.98 150.78,328.72 151.50,333.60 C152.22,338.48 152.52,343.13 153.00,347.90 C153.48,352.67 153.82,355.03 154.40,362.20 C154.98,369.37 155.78,381.35 156.50,390.90 C157.22,400.45 157.98,409.97 158.70,419.50 C159.42,429.03 159.97,438.57 160.80,448.10 C161.63,457.63 162.50,467.15 163.70,476.70 C164.90,486.25 166.45,498.23 168.00,505.40 C169.55,512.57 170.97,515.65 173.00,519.70 C175.03,523.75 177.33,526.85 180.20,529.70 C183.07,532.55 186.38,535.02 190.20,536.80 C194.02,538.58 199.62,539.54 203.10,540.40 C206.58,541.26 208.10,541.62 211.10,541.98 C214.10,542.33 205.10,542.41 221.10,542.50 C237.10,542.50 292.77,542.50 307.10,542.50" fill="none" stroke="#F2A23C" stroke-width="1.8" stroke-linejoin="round"/>
<path d="M70.80,542.50 C78.43,542.50 107.80,542.50 116.60,542.50 C125.40,542.44 121.60,542.38 123.60,542.15 C125.60,541.92 126.82,541.99 128.60,541.10 C130.38,540.21 132.75,539.18 134.30,536.80 C135.85,534.42 136.75,532.03 137.90,526.80 C139.05,521.57 140.23,513.75 141.20,505.40 C142.17,497.05 143.00,486.25 143.70,476.70 C144.40,467.15 144.87,457.63 145.40,448.10 C145.93,438.57 146.35,429.03 146.90,419.50 C147.45,409.97 148.05,400.45 148.70,390.90 C149.35,381.35 150.08,371.75 150.80,362.20 C151.52,352.65 152.22,340.98 153.00,333.60 C153.78,326.22 154.43,319.08 155.50,317.90 C156.57,316.72 158.52,323.88 159.40,326.50 C160.28,329.12 160.20,327.65 160.80,333.60 C161.40,339.55 162.28,352.65 163.00,362.20 C163.72,371.75 164.38,381.35 165.10,390.90 C165.82,400.45 166.65,409.97 167.30,419.50 C167.95,429.03 168.28,438.57 169.00,448.10 C169.72,457.63 170.33,467.15 171.60,476.70 C172.87,486.25 174.93,498.23 176.60,505.40 C178.27,512.57 179.33,515.65 181.60,519.70 C183.87,523.75 186.85,526.85 190.20,529.70 C193.55,532.55 197.65,535.02 201.70,536.80 C205.75,538.58 211.03,539.54 214.50,540.40 C217.97,541.26 219.50,541.62 222.50,541.98 C225.50,542.33 218.40,542.41 232.50,542.50 C246.60,542.50 294.67,542.50 307.10,542.50" fill="none" stroke="#E21F26" stroke-width="1.9" stroke-linejoin="round"/>
<line x1="183.00" y1="341.20" x2="216.80" y2="341.20" stroke="#F5C3A0" stroke-width="4.3" stroke-linecap="butt"/>
<line x1="183.00" y1="365.60" x2="216.80" y2="365.60" stroke="#E21F26" stroke-width="4.3" stroke-linecap="butt"/>
<text transform="translate(227.80,347.50) scale(1,1.035)" font-size="25.5" font-weight="bold" text-anchor="start" fill="#000" >IgG</text>
<text transform="translate(227.80,377.50) scale(1,1.035)" font-size="25.5" font-weight="bold" text-anchor="start" fill="#000" >CD81</text>
<path d="M344.40,543.30 L344.40,306.00 L582.60,306.00 L582.60,543.30" fill="none" stroke="#1a1a1a" stroke-width="1.5"/>
<line x1="337.40" y1="543.30" x2="583.30" y2="543.30" stroke="#1a1a1a" stroke-width="1.7" stroke-linecap="butt"/>
<line x1="403.20" y1="543.30" x2="403.20" y2="549.60" stroke="#222" stroke-width="1.3" stroke-linecap="butt"/>
<line x1="462.30" y1="543.30" x2="462.30" y2="549.60" stroke="#222" stroke-width="1.3" stroke-linecap="butt"/>
<line x1="516.30" y1="543.30" x2="516.30" y2="549.60" stroke="#222" stroke-width="1.3" stroke-linecap="butt"/>
<line x1="569.10" y1="543.30" x2="569.10" y2="549.60" stroke="#222" stroke-width="1.3" stroke-linecap="butt"/>
<line x1="420.99" y1="543.30" x2="420.99" y2="546.50" stroke="#222" stroke-width="1.0" stroke-linecap="butt"/>
<line x1="431.40" y1="543.30" x2="431.40" y2="546.50" stroke="#222" stroke-width="1.0" stroke-linecap="butt"/>
<line x1="438.78" y1="543.30" x2="438.78" y2="546.50" stroke="#222" stroke-width="1.0" stroke-linecap="butt"/>
<line x1="444.51" y1="543.30" x2="444.51" y2="546.50" stroke="#222" stroke-width="1.0" stroke-linecap="butt"/>
<line x1="449.19" y1="543.30" x2="449.19" y2="546.50" stroke="#222" stroke-width="1.0" stroke-linecap="butt"/>
<line x1="453.15" y1="543.30" x2="453.15" y2="546.50" stroke="#222" stroke-width="1.0" stroke-linecap="butt"/>
<line x1="456.57" y1="543.30" x2="456.57" y2="546.50" stroke="#222" stroke-width="1.0" stroke-linecap="butt"/>
<line x1="459.60" y1="543.30" x2="459.60" y2="546.50" stroke="#222" stroke-width="1.0" stroke-linecap="butt"/>
<line x1="478.56" y1="543.30" x2="478.56" y2="546.50" stroke="#222" stroke-width="1.0" stroke-linecap="butt"/>
<line x1="488.06" y1="543.30" x2="488.06" y2="546.50" stroke="#222" stroke-width="1.0" stroke-linecap="butt"/>
<line x1="494.81" y1="543.30" x2="494.81" y2="546.50" stroke="#222" stroke-width="1.0" stroke-linecap="butt"/>
<line x1="500.04" y1="543.30" x2="500.04" y2="546.50" stroke="#222" stroke-width="1.0" stroke-linecap="butt"/>
<line x1="504.32" y1="543.30" x2="504.32" y2="546.50" stroke="#222" stroke-width="1.0" stroke-linecap="butt"/>
<line x1="507.94" y1="543.30" x2="507.94" y2="546.50" stroke="#222" stroke-width="1.0" stroke-linecap="butt"/>
<line x1="511.07" y1="543.30" x2="511.07" y2="546.50" stroke="#222" stroke-width="1.0" stroke-linecap="butt"/>
<line x1="513.83" y1="543.30" x2="513.83" y2="546.50" stroke="#222" stroke-width="1.0" stroke-linecap="butt"/>
<line x1="532.19" y1="543.30" x2="532.19" y2="546.50" stroke="#222" stroke-width="1.0" stroke-linecap="butt"/>
<line x1="541.49" y1="543.30" x2="541.49" y2="546.50" stroke="#222" stroke-width="1.0" stroke-linecap="butt"/>
<line x1="548.09" y1="543.30" x2="548.09" y2="546.50" stroke="#222" stroke-width="1.0" stroke-linecap="butt"/>
<line x1="553.21" y1="543.30" x2="553.21" y2="546.50" stroke="#222" stroke-width="1.0" stroke-linecap="butt"/>
<line x1="557.39" y1="543.30" x2="557.39" y2="546.50" stroke="#222" stroke-width="1.0" stroke-linecap="butt"/>
<line x1="560.92" y1="543.30" x2="560.92" y2="546.50" stroke="#222" stroke-width="1.0" stroke-linecap="butt"/>
<line x1="563.98" y1="543.30" x2="563.98" y2="546.50" stroke="#222" stroke-width="1.0" stroke-linecap="butt"/>
<line x1="566.68" y1="543.30" x2="566.68" y2="546.50" stroke="#222" stroke-width="1.0" stroke-linecap="butt"/>
<line x1="346.60" y1="543.30" x2="346.60" y2="546.30" stroke="#222" stroke-width="1.0" stroke-linecap="butt"/>
<line x1="349.50" y1="543.30" x2="349.50" y2="546.30" stroke="#222" stroke-width="1.0" stroke-linecap="butt"/>
<line x1="352.30" y1="543.30" x2="352.30" y2="546.30" stroke="#222" stroke-width="1.0" stroke-linecap="butt"/>
<line x1="355.20" y1="543.30" x2="355.20" y2="546.30" stroke="#222" stroke-width="1.0" stroke-linecap="butt"/>
<line x1="358.00" y1="543.30" x2="358.00" y2="546.30" stroke="#222" stroke-width="1.0" stroke-linecap="butt"/>
<line x1="360.80" y1="543.30" x2="360.80" y2="546.30" stroke="#222" stroke-width="1.0" stroke-linecap="butt"/>
<line x1="377.30" y1="543.30" x2="377.30" y2="546.30" stroke="#222" stroke-width="1.0" stroke-linecap="butt"/>
<line x1="380.20" y1="543.30" x2="380.20" y2="546.30" stroke="#222" stroke-width="1.0" stroke-linecap="butt"/>
<line x1="383.00" y1="543.30" x2="383.00" y2="546.30" stroke="#222" stroke-width="1.0" stroke-linecap="butt"/>
<line x1="385.80" y1="543.30" x2="385.80" y2="546.30" stroke="#222" stroke-width="1.0" stroke-linecap="butt"/>
<line x1="389.20" y1="543.30" x2="389.20" y2="546.30" stroke="#222" stroke-width="1.0" stroke-linecap="butt"/>
<line x1="392.10" y1="543.30" x2="392.10" y2="546.30" stroke="#222" stroke-width="1.0" stroke-linecap="butt"/>
<line x1="394.90" y1="543.30" x2="394.90" y2="546.30" stroke="#222" stroke-width="1.0" stroke-linecap="butt"/>
<line x1="398.30" y1="543.30" x2="398.30" y2="546.30" stroke="#222" stroke-width="1.0" stroke-linecap="butt"/>
<line x1="400.60" y1="543.30" x2="400.60" y2="546.30" stroke="#222" stroke-width="1.0" stroke-linecap="butt"/>
<polygon points="364.00,543.80 369.90,543.80 369.90,550.30 368.10,550.30 365.90,546.50 365.90,549.80 364.00,549.80" fill="#111"/>
<path d="M345.40,542.40 C350.60,542.40 370.23,542.40 376.60,542.40 C382.97,542.17 381.60,541.93 383.60,541.00 C385.60,540.07 387.05,539.17 388.60,536.80 C390.15,534.43 391.63,532.03 392.90,526.80 C394.17,521.57 395.30,513.75 396.20,505.40 C397.10,497.05 397.73,486.25 398.30,476.70 C398.87,467.15 399.13,457.63 399.60,448.10 C400.07,438.57 400.67,429.03 401.10,419.50 C401.53,409.97 401.78,400.45 402.20,390.90 C402.62,381.35 403.00,371.75 403.60,362.20 C404.20,352.65 405.00,340.63 405.80,333.60 C406.60,326.57 407.28,320.00 408.40,320.00 C409.52,320.00 411.32,326.57 412.50,333.60 C413.68,340.63 414.72,352.65 415.50,362.20 C416.28,371.75 416.60,381.35 417.20,390.90 C417.80,400.45 418.50,409.97 419.10,419.50 C419.70,429.03 420.15,438.57 420.80,448.10 C421.45,457.63 422.08,467.15 423.00,476.70 C423.92,486.25 425.12,498.23 426.30,505.40 C427.48,512.57 428.63,515.65 430.10,519.70 C431.57,523.75 432.83,526.85 435.10,529.70 C437.37,532.55 440.35,535.02 443.70,536.80 C447.05,538.58 451.95,539.55 455.20,540.40 C458.45,541.25 460.20,541.57 463.20,541.90 C466.20,542.23 453.38,542.32 473.20,542.40 C493.02,542.40 563.95,542.40 582.10,542.40" fill="none" stroke="#8CC1E9" stroke-width="1.8" stroke-linejoin="round"/>
<path d="M345.40,542.40 C350.72,542.40 370.82,542.40 377.30,542.40 C383.78,542.35 382.30,542.29 384.30,542.08 C386.30,541.86 387.52,541.98 389.30,541.10 C391.08,540.22 393.33,539.18 395.00,536.80 C396.67,534.42 397.98,532.03 399.30,526.80 C400.62,521.57 401.93,513.75 402.90,505.40 C403.87,497.05 404.50,486.25 405.10,476.70 C405.70,467.15 406.03,457.63 406.50,448.10 C406.97,438.57 407.42,429.03 407.90,419.50 C408.38,409.97 408.92,400.45 409.40,390.90 C409.88,381.35 410.28,371.75 410.80,362.20 C411.32,352.65 411.62,340.87 412.50,333.60 C413.38,326.33 414.95,318.60 416.10,318.60 C417.25,318.60 418.37,326.33 419.40,333.60 C420.43,340.87 421.47,352.65 422.30,362.20 C423.13,371.75 423.82,381.35 424.40,390.90 C424.98,400.45 425.32,409.97 425.80,419.50 C426.28,429.03 426.70,438.57 427.30,448.10 C427.90,457.63 428.33,467.15 429.40,476.70 C430.47,486.25 432.27,498.23 433.70,505.40 C435.13,512.57 436.08,515.65 438.00,519.70 C439.92,523.75 442.33,526.85 445.20,529.70 C448.07,532.55 451.62,535.02 455.20,536.80 C458.78,538.58 463.45,539.55 466.70,540.40 C469.95,541.25 471.70,541.57 474.70,541.90 C477.70,542.23 466.80,542.32 484.70,542.40 C502.60,542.40 565.87,542.40 582.10,542.40" fill="none" stroke="#3346A5" stroke-width="1.9" stroke-linejoin="round"/>
<line x1="456.80" y1="341.30" x2="490.40" y2="341.30" stroke="#93BFE3" stroke-width="4.3" stroke-linecap="butt"/>
<line x1="456.80" y1="365.60" x2="490.40" y2="365.60" stroke="#3346A5" stroke-width="4.3" stroke-linecap="butt"/>
<text transform="translate(502.30,347.50) scale(1,1.035)" font-size="25.5" font-weight="bold" text-anchor="start" fill="#000" >IgG</text>
<text transform="translate(502.30,377.50) scale(1,1.035)" font-size="25.5" font-weight="bold" text-anchor="start" fill="#000" >CD81</text>
<path d="M620.30,543.00 L620.30,305.70 L858.20,305.70 L858.20,543.00" fill="none" stroke="#1a1a1a" stroke-width="1.5"/>
<line x1="613.30" y1="543.00" x2="858.90" y2="543.00" stroke="#1a1a1a" stroke-width="1.7" stroke-linecap="butt"/>
<line x1="679.10" y1="543.00" x2="679.10" y2="549.30" stroke="#222" stroke-width="1.3" stroke-linecap="butt"/>
<line x1="738.20" y1="543.00" x2="738.20" y2="549.30" stroke="#222" stroke-width="1.3" stroke-linecap="butt"/>
<line x1="792.20" y1="543.00" x2="792.20" y2="549.30" stroke="#222" stroke-width="1.3" stroke-linecap="butt"/>
<line x1="845.00" y1="543.00" x2="845.00" y2="549.30" stroke="#222" stroke-width="1.3" stroke-linecap="butt"/>
<line x1="696.89" y1="543.00" x2="696.89" y2="546.20" stroke="#222" stroke-width="1.0" stroke-linecap="butt"/>
<line x1="707.30" y1="543.00" x2="707.30" y2="546.20" stroke="#222" stroke-width="1.0" stroke-linecap="butt"/>
<line x1="714.68" y1="543.00" x2="714.68" y2="546.20" stroke="#222" stroke-width="1.0" stroke-linecap="butt"/>
<line x1="720.41" y1="543.00" x2="720.41" y2="546.20" stroke="#222" stroke-width="1.0" stroke-linecap="butt"/>
<line x1="725.09" y1="543.00" x2="725.09" y2="546.20" stroke="#222" stroke-width="1.0" stroke-linecap="butt"/>
<line x1="729.05" y1="543.00" x2="729.05" y2="546.20" stroke="#222" stroke-width="1.0" stroke-linecap="butt"/>
<line x1="732.47" y1="543.00" x2="732.47" y2="546.20" stroke="#222" stroke-width="1.0" stroke-linecap="butt"/>
<line x1="735.50" y1="543.00" x2="735.50" y2="546.20" stroke="#222" stroke-width="1.0" stroke-linecap="butt"/>
<line x1="754.46" y1="543.00" x2="754.46" y2="546.20" stroke="#222" stroke-width="1.0" stroke-linecap="butt"/>
<line x1="763.96" y1="543.00" x2="763.96" y2="546.20" stroke="#222" stroke-width="1.0" stroke-linecap="butt"/>
<line x1="770.71" y1="543.00" x2="770.71" y2="546.20" stroke="#222" stroke-width="1.0" stroke-linecap="butt"/>
<line x1="775.94" y1="543.00" x2="775.94" y2="546.20" stroke="#222" stroke-width="1.0" stroke-linecap="butt"/>
<line x1="780.22" y1="543.00" x2="780.22" y2="546.20" stroke="#222" stroke-width="1.0" stroke-linecap="butt"/>
<line x1="783.84" y1="543.00" x2="783.84" y2="546.20" stroke="#222" stroke-width="1.0" stroke-linecap="butt"/>
<line x1="786.97" y1="543.00" x2="786.97" y2="546.20" stroke="#222" stroke-width="1.0" stroke-linecap="butt"/>
<line x1="789.73" y1="543.00" x2="789.73" y2="546.20" stroke="#222" stroke-width="1.0" stroke-linecap="butt"/>
<line x1="808.09" y1="543.00" x2="808.09" y2="546.20" stroke="#222" stroke-width="1.0" stroke-linecap="butt"/>
<line x1="817.39" y1="543.00" x2="817.39" y2="546.20" stroke="#222" stroke-width="1.0" stroke-linecap="butt"/>
<line x1="823.99" y1="543.00" x2="823.99" y2="546.20" stroke="#222" stroke-width="1.0" stroke-linecap="butt"/>
<line x1="829.11" y1="543.00" x2="829.11" y2="546.20" stroke="#222" stroke-width="1.0" stroke-linecap="butt"/>
<line x1="833.29" y1="543.00" x2="833.29" y2="546.20" stroke="#222" stroke-width="1.0" stroke-linecap="butt"/>
<line x1="836.82" y1="543.00" x2="836.82" y2="546.20" stroke="#222" stroke-width="1.0" stroke-linecap="butt"/>
<line x1="839.88" y1="543.00" x2="839.88" y2="546.20" stroke="#222" stroke-width="1.0" stroke-linecap="butt"/>
<line x1="842.58" y1="543.00" x2="842.58" y2="546.20" stroke="#222" stroke-width="1.0" stroke-linecap="butt"/>
<line x1="622.50" y1="543.00" x2="622.50" y2="546.00" stroke="#222" stroke-width="1.0" stroke-linecap="butt"/>
<line x1="625.40" y1="543.00" x2="625.40" y2="546.00" stroke="#222" stroke-width="1.0" stroke-linecap="butt"/>
<line x1="628.20" y1="543.00" x2="628.20" y2="546.00" stroke="#222" stroke-width="1.0" stroke-linecap="butt"/>
<line x1="631.10" y1="543.00" x2="631.10" y2="546.00" stroke="#222" stroke-width="1.0" stroke-linecap="butt"/>
<line x1="633.90" y1="543.00" x2="633.90" y2="546.00" stroke="#222" stroke-width="1.0" stroke-linecap="butt"/>
<line x1="636.70" y1="543.00" x2="636.70" y2="546.00" stroke="#222" stroke-width="1.0" stroke-linecap="butt"/>
<line x1="653.20" y1="543.00" x2="653.20" y2="546.00" stroke="#222" stroke-width="1.0" stroke-linecap="butt"/>
<line x1="656.10" y1="543.00" x2="656.10" y2="546.00" stroke="#222" stroke-width="1.0" stroke-linecap="butt"/>
<line x1="658.90" y1="543.00" x2="658.90" y2="546.00" stroke="#222" stroke-width="1.0" stroke-linecap="butt"/>
<line x1="661.70" y1="543.00" x2="661.70" y2="546.00" stroke="#222" stroke-width="1.0" stroke-linecap="butt"/>
<line x1="665.10" y1="543.00" x2="665.10" y2="546.00" stroke="#222" stroke-width="1.0" stroke-linecap="butt"/>
<line x1="668.00" y1="543.00" x2="668.00" y2="546.00" stroke="#222" stroke-width="1.0" stroke-linecap="butt"/>
<line x1="670.80" y1="543.00" x2="670.80" y2="546.00" stroke="#222" stroke-width="1.0" stroke-linecap="butt"/>
<line x1="674.20" y1="543.00" x2="674.20" y2="546.00" stroke="#222" stroke-width="1.0" stroke-linecap="butt"/>
<line x1="676.50" y1="543.00" x2="676.50" y2="546.00" stroke="#222" stroke-width="1.0" stroke-linecap="butt"/>
<polygon points="639.90,543.50 645.80,543.50 645.80,550.00 644.00,550.00 641.80,546.20 641.80,549.50 639.90,549.50" fill="#111"/>
<path d="M621.30,542.10 C626.58,542.10 646.55,542.10 653.00,542.10 C659.45,542.06 658.00,542.02 660.00,541.85 C662.00,541.68 663.20,541.94 665.00,541.10 C666.80,540.26 669.13,539.18 670.80,536.80 C672.47,534.42 673.58,532.03 675.00,526.80 C676.42,521.57 678.15,513.75 679.30,505.40 C680.45,497.05 681.13,486.25 681.90,476.70 C682.67,467.15 683.25,457.63 683.90,448.10 C684.55,438.57 685.17,429.03 685.80,419.50 C686.43,409.97 687.10,400.45 687.70,390.90 C688.30,381.35 688.68,371.75 689.40,362.20 C690.12,352.65 691.15,341.10 692.00,333.60 C692.85,326.10 693.58,317.20 694.50,317.20 C695.42,317.20 696.40,326.10 697.50,333.60 C698.60,341.10 700.18,352.65 701.10,362.20 C702.02,371.75 702.40,381.35 703.00,390.90 C703.60,400.45 704.15,409.97 704.70,419.50 C705.25,429.03 705.63,438.57 706.30,448.10 C706.97,457.63 707.75,467.15 708.70,476.70 C709.65,486.25 710.93,498.23 712.00,505.40 C713.07,512.57 713.73,515.65 715.10,519.70 C716.47,523.75 718.05,526.85 720.20,529.70 C722.35,532.55 725.02,535.02 728.00,536.80 C730.98,538.58 735.08,539.59 738.10,540.40 C741.12,541.21 743.10,541.39 746.10,541.67 C749.10,541.96 737.50,542.03 756.10,542.10 C774.70,542.10 840.77,542.10 857.70,542.10" fill="none" stroke="#7EC241" stroke-width="1.8" stroke-linejoin="round"/>
<path d="M621.30,542.10 C628.02,542.10 653.72,542.10 661.60,542.10 C669.48,542.06 666.60,542.02 668.60,541.85 C670.60,541.68 671.68,541.94 673.60,541.10 C675.52,540.26 678.30,539.18 680.10,536.80 C681.90,534.42 683.05,532.03 684.40,526.80 C685.75,521.57 687.13,513.75 688.20,505.40 C689.27,497.05 690.00,486.25 690.80,476.70 C691.60,467.15 692.33,457.63 693.00,448.10 C693.67,438.57 694.22,429.03 694.80,419.50 C695.38,409.97 695.97,400.45 696.50,390.90 C697.03,381.35 697.40,371.75 698.00,362.20 C698.60,352.65 699.38,340.87 700.10,333.60 C700.82,326.33 701.47,318.60 702.30,318.60 C703.13,318.60 704.20,326.33 705.10,333.60 C706.00,340.87 706.92,352.65 707.70,362.20 C708.48,371.75 709.10,381.35 709.80,390.90 C710.50,400.45 711.25,409.97 711.90,419.50 C712.55,429.03 713.03,438.57 713.70,448.10 C714.37,457.63 714.82,467.15 715.90,476.70 C716.98,486.25 718.77,498.23 720.20,505.40 C721.63,512.57 722.72,515.65 724.50,519.70 C726.28,523.75 728.17,526.85 730.90,529.70 C733.63,532.55 737.32,535.02 740.90,536.80 C744.48,538.58 749.15,539.59 752.40,540.40 C755.65,541.21 757.40,541.39 760.40,541.67 C763.40,541.96 754.18,542.03 770.40,542.10 C786.62,542.10 843.15,542.10 857.70,542.10" fill="none" stroke="#31521F" stroke-width="1.9" stroke-linejoin="round"/>
<line x1="728.20" y1="341.50" x2="762.00" y2="341.50" stroke="#80C341" stroke-width="4.3" stroke-linecap="butt"/>
<line x1="728.20" y1="365.60" x2="762.00" y2="365.60" stroke="#31501F" stroke-width="4.3" stroke-linecap="butt"/>
<text transform="translate(773.90,347.50) scale(1,1.035)" font-size="25.5" font-weight="bold" text-anchor="start" fill="#000" >IgG</text>
<text transform="translate(773.90,377.50) scale(1,1.035)" font-size="25.5" font-weight="bold" text-anchor="start" fill="#000" >CD81</text>
<path d="M897.30,543.20 L897.30,305.50 L1135.70,305.50 L1135.70,543.20" fill="none" stroke="#1a1a1a" stroke-width="1.5"/>
<line x1="890.30" y1="543.20" x2="1136.40" y2="543.20" stroke="#1a1a1a" stroke-width="1.7" stroke-linecap="butt"/>
<line x1="956.10" y1="543.20" x2="956.10" y2="549.50" stroke="#222" stroke-width="1.3" stroke-linecap="butt"/>
<line x1="1015.20" y1="543.20" x2="1015.20" y2="549.50" stroke="#222" stroke-width="1.3" stroke-linecap="butt"/>
<line x1="1069.20" y1="543.20" x2="1069.20" y2="549.50" stroke="#222" stroke-width="1.3" stroke-linecap="butt"/>
<line x1="1122.00" y1="543.20" x2="1122.00" y2="549.50" stroke="#222" stroke-width="1.3" stroke-linecap="butt"/>
<line x1="973.89" y1="543.20" x2="973.89" y2="546.40" stroke="#222" stroke-width="1.0" stroke-linecap="butt"/>
<line x1="984.30" y1="543.20" x2="984.30" y2="546.40" stroke="#222" stroke-width="1.0" stroke-linecap="butt"/>
<line x1="991.68" y1="543.20" x2="991.68" y2="546.40" stroke="#222" stroke-width="1.0" stroke-linecap="butt"/>
<line x1="997.41" y1="543.20" x2="997.41" y2="546.40" stroke="#222" stroke-width="1.0" stroke-linecap="butt"/>
<line x1="1002.09" y1="543.20" x2="1002.09" y2="546.40" stroke="#222" stroke-width="1.0" stroke-linecap="butt"/>
<line x1="1006.05" y1="543.20" x2="1006.05" y2="546.40" stroke="#222" stroke-width="1.0" stroke-linecap="butt"/>
<line x1="1009.47" y1="543.20" x2="1009.47" y2="546.40" stroke="#222" stroke-width="1.0" stroke-linecap="butt"/>
<line x1="1012.50" y1="543.20" x2="1012.50" y2="546.40" stroke="#222" stroke-width="1.0" stroke-linecap="butt"/>
<line x1="1031.46" y1="543.20" x2="1031.46" y2="546.40" stroke="#222" stroke-width="1.0" stroke-linecap="butt"/>
<line x1="1040.96" y1="543.20" x2="1040.96" y2="546.40" stroke="#222" stroke-width="1.0" stroke-linecap="butt"/>
<line x1="1047.71" y1="543.20" x2="1047.71" y2="546.40" stroke="#222" stroke-width="1.0" stroke-linecap="butt"/>
<line x1="1052.94" y1="543.20" x2="1052.94" y2="546.40" stroke="#222" stroke-width="1.0" stroke-linecap="butt"/>
<line x1="1057.22" y1="543.20" x2="1057.22" y2="546.40" stroke="#222" stroke-width="1.0" stroke-linecap="butt"/>
<line x1="1060.84" y1="543.20" x2="1060.84" y2="546.40" stroke="#222" stroke-width="1.0" stroke-linecap="butt"/>
<line x1="1063.97" y1="543.20" x2="1063.97" y2="546.40" stroke="#222" stroke-width="1.0" stroke-linecap="butt"/>
<line x1="1066.73" y1="543.20" x2="1066.73" y2="546.40" stroke="#222" stroke-width="1.0" stroke-linecap="butt"/>
<line x1="1085.09" y1="543.20" x2="1085.09" y2="546.40" stroke="#222" stroke-width="1.0" stroke-linecap="butt"/>
<line x1="1094.39" y1="543.20" x2="1094.39" y2="546.40" stroke="#222" stroke-width="1.0" stroke-linecap="butt"/>
<line x1="1100.99" y1="543.20" x2="1100.99" y2="546.40" stroke="#222" stroke-width="1.0" stroke-linecap="butt"/>
<line x1="1106.11" y1="543.20" x2="1106.11" y2="546.40" stroke="#222" stroke-width="1.0" stroke-linecap="butt"/>
<line x1="1110.29" y1="543.20" x2="1110.29" y2="546.40" stroke="#222" stroke-width="1.0" stroke-linecap="butt"/>
<line x1="1113.82" y1="543.20" x2="1113.82" y2="546.40" stroke="#222" stroke-width="1.0" stroke-linecap="butt"/>
<line x1="1116.88" y1="543.20" x2="1116.88" y2="546.40" stroke="#222" stroke-width="1.0" stroke-linecap="butt"/>
<line x1="1119.58" y1="543.20" x2="1119.58" y2="546.40" stroke="#222" stroke-width="1.0" stroke-linecap="butt"/>
<line x1="899.50" y1="543.20" x2="899.50" y2="546.20" stroke="#222" stroke-width="1.0" stroke-linecap="butt"/>
<line x1="902.40" y1="543.20" x2="902.40" y2="546.20" stroke="#222" stroke-width="1.0" stroke-linecap="butt"/>
<line x1="905.20" y1="543.20" x2="905.20" y2="546.20" stroke="#222" stroke-width="1.0" stroke-linecap="butt"/>
<line x1="908.10" y1="543.20" x2="908.10" y2="546.20" stroke="#222" stroke-width="1.0" stroke-linecap="butt"/>
<line x1="910.90" y1="543.20" x2="910.90" y2="546.20" stroke="#222" stroke-width="1.0" stroke-linecap="butt"/>
<line x1="913.70" y1="543.20" x2="913.70" y2="546.20" stroke="#222" stroke-width="1.0" stroke-linecap="butt"/>
<line x1="930.20" y1="543.20" x2="930.20" y2="546.20" stroke="#222" stroke-width="1.0" stroke-linecap="butt"/>
<line x1="933.10" y1="543.20" x2="933.10" y2="546.20" stroke="#222" stroke-width="1.0" stroke-linecap="butt"/>
<line x1="935.90" y1="543.20" x2="935.90" y2="546.20" stroke="#222" stroke-width="1.0" stroke-linecap="butt"/>
<line x1="938.70" y1="543.20" x2="938.70" y2="546.20" stroke="#222" stroke-width="1.0" stroke-linecap="butt"/>
<line x1="942.10" y1="543.20" x2="942.10" y2="546.20" stroke="#222" stroke-width="1.0" stroke-linecap="butt"/>
<line x1="945.00" y1="543.20" x2="945.00" y2="546.20" stroke="#222" stroke-width="1.0" stroke-linecap="butt"/>
<line x1="947.80" y1="543.20" x2="947.80" y2="546.20" stroke="#222" stroke-width="1.0" stroke-linecap="butt"/>
<line x1="951.20" y1="543.20" x2="951.20" y2="546.20" stroke="#222" stroke-width="1.0" stroke-linecap="butt"/>
<line x1="953.50" y1="543.20" x2="953.50" y2="546.20" stroke="#222" stroke-width="1.0" stroke-linecap="butt"/>
<polygon points="916.90,543.70 922.80,543.70 922.80,550.20 921.00,550.20 918.80,546.40 918.80,549.70 916.90,549.70" fill="#111"/>
<path d="M898.30,542.30 C902.07,542.30 915.97,542.30 920.90,542.30 C925.83,542.25 925.90,542.20 927.90,542.00 C929.90,541.80 931.23,541.97 932.90,541.10 C934.57,540.23 936.47,539.18 937.90,536.80 C939.33,534.42 940.35,532.03 941.50,526.80 C942.65,521.57 943.85,513.75 944.80,505.40 C945.75,497.05 946.52,486.25 947.20,476.70 C947.88,467.15 948.35,457.63 948.90,448.10 C949.45,438.57 950.02,429.03 950.50,419.50 C950.98,409.97 951.28,400.45 951.80,390.90 C952.32,381.35 953.05,369.60 953.60,362.20 C954.15,354.80 954.62,350.87 955.10,346.50 C955.58,342.13 955.87,339.45 956.50,336.00 C957.13,332.55 958.23,326.20 958.90,325.80 C959.57,325.40 959.70,327.53 960.50,333.60 C961.30,339.67 962.82,352.65 963.70,362.20 C964.58,371.75 965.08,381.35 965.80,390.90 C966.52,400.45 967.28,409.97 968.00,419.50 C968.72,429.03 969.38,438.57 970.10,448.10 C970.82,457.63 971.18,467.15 972.30,476.70 C973.42,486.25 975.25,498.23 976.80,505.40 C978.35,512.57 979.73,515.65 981.60,519.70 C983.47,523.75 985.50,526.85 988.00,529.70 C990.50,532.55 993.73,535.02 996.60,536.80 C999.47,538.58 1002.43,539.56 1005.20,540.40 C1007.97,541.24 1010.20,541.51 1013.20,541.83 C1016.20,542.14 1002.87,542.22 1023.20,542.30 C1043.53,542.30 1116.53,542.30 1135.20,542.30" fill="none" stroke="#E8A3D3" stroke-width="1.8" stroke-linejoin="round"/>
<path d="M898.30,542.30 C902.90,542.30 920.13,542.30 925.90,542.30 C931.67,542.25 930.90,542.20 932.90,542.00 C934.90,541.80 936.12,541.97 937.90,541.10 C939.68,540.23 941.93,539.18 943.60,536.80 C945.27,534.42 946.58,532.03 947.90,526.80 C949.22,521.57 950.47,513.75 951.50,505.40 C952.53,497.05 953.33,486.25 954.10,476.70 C954.87,467.15 955.47,457.63 956.10,448.10 C956.73,438.57 957.23,429.03 957.90,419.50 C958.57,409.97 959.33,400.45 960.10,390.90 C960.87,381.35 961.67,371.75 962.50,362.20 C963.33,352.65 964.32,340.38 965.10,333.60 C965.88,326.82 966.37,321.50 967.20,321.50 C968.03,321.50 969.13,326.82 970.10,333.60 C971.07,340.38 972.22,352.65 973.00,362.20 C973.78,371.75 974.20,381.35 974.80,390.90 C975.40,400.45 975.95,409.97 976.60,419.50 C977.25,429.03 977.87,438.57 978.70,448.10 C979.53,457.63 980.53,469.55 981.60,476.70 C982.67,483.85 984.03,486.22 985.10,491.00 C986.17,495.78 986.68,500.62 988.00,505.40 C989.32,510.18 990.85,515.65 993.00,519.70 C995.15,523.75 997.43,526.85 1000.90,529.70 C1004.37,532.55 1008.55,535.02 1013.80,536.80 C1019.05,538.58 1027.97,539.56 1032.40,540.40 C1036.83,541.24 1037.40,541.51 1040.40,541.83 C1043.40,542.14 1034.60,542.22 1050.40,542.30 C1066.20,542.30 1121.07,542.30 1135.20,542.30" fill="none" stroke="#7246A7" stroke-width="1.9" stroke-linejoin="round"/>
<line x1="1009.70" y1="339.20" x2="1043.20" y2="339.20" stroke="#F0C4E2" stroke-width="4.3" stroke-linecap="butt"/>
<line x1="1009.70" y1="365.60" x2="1043.20" y2="365.60" stroke="#7447A8" stroke-width="4.3" stroke-linecap="butt"/>
<text transform="translate(1054.90,347.50) scale(1,1.035)" font-size="25.5" font-weight="bold" text-anchor="start" fill="#000" >IgG</text>
<text transform="translate(1054.90,377.50) scale(1,1.035)" font-size="25.5" font-weight="bold" text-anchor="start" fill="#000" >CD81</text>
<rect x="37.8" y="431" width="5.4" height="111.5" fill="#7f7f7f"/>
<polygon points="32.5,433 48.5,433 40.5,416.8" fill="#7f7f7f"/>
<text transform="translate(25.60,488.20) rotate(-90) scale(1,0.97)" x="0" y="0" font-size="26" font-weight="bold" text-anchor="middle" fill="#7f7f7f">counts</text>
<rect x="67.3" y="568.3" width="111" height="5.8" fill="#7f7f7f"/>
<polygon points="177,563.5 177,579.2 192.5,571.3" fill="#7f7f7f"/>
<text transform="translate(123.00,602.30) scale(1,1.035)" font-size="24" font-weight="bold" text-anchor="middle" fill="#7f7f7f" >FI</text>
<text transform="translate(85.00,672.70) scale(1,1.035)" font-size="29" font-weight="bold" text-anchor="start" fill="#000" >B</text>
<text transform="translate(337.30,669.20) scale(1,1.035)" font-size="35.5" font-weight="bold" text-anchor="middle" fill="#000" >CD9</text>
<line x1="176.50" y1="905.00" x2="183.00" y2="905.00" stroke="#000" stroke-width="2.6" stroke-linecap="butt"/>
<text transform="translate(169.50,912.60) scale(1,1.035)" font-size="23" font-weight="bold" text-anchor="end" fill="#000" >0</text>
<line x1="176.50" y1="834.43" x2="183.00" y2="834.43" stroke="#000" stroke-width="2.6" stroke-linecap="butt"/>
<text transform="translate(169.50,842.03) scale(1,1.035)" font-size="23" font-weight="bold" text-anchor="end" fill="#000" >5</text>
<line x1="176.50" y1="763.87" x2="183.00" y2="763.87" stroke="#000" stroke-width="2.6" stroke-linecap="butt"/>
<text transform="translate(169.50,771.47) scale(1,1.035)" font-size="23" font-weight="bold" text-anchor="end" fill="#000" >10</text>
<line x1="176.50" y1="693.30" x2="183.00" y2="693.30" stroke="#000" stroke-width="2.6" stroke-linecap="butt"/>
<text transform="translate(169.50,700.90) scale(1,1.035)" font-size="23" font-weight="bold" text-anchor="end" fill="#000" >15</text>
<line x1="183.00" y1="692.10" x2="183.00" y2="906.30" stroke="#000" stroke-width="2.6" stroke-linecap="butt"/>
<line x1="176.50" y1="905.00" x2="503.00" y2="905.00" stroke="#000" stroke-width="3.2" stroke-linecap="butt"/>
<line x1="232.40" y1="905.00" x2="232.40" y2="911.00" stroke="#000" stroke-width="2.5" stroke-linecap="butt"/>
<text transform="translate(231.60,934.60) scale(1,1.035)" font-size="24" font-weight="bold" text-anchor="middle" fill="#000" >A172</text>
<line x1="305.50" y1="905.00" x2="305.50" y2="911.00" stroke="#000" stroke-width="2.5" stroke-linecap="butt"/>
<text transform="translate(304.70,934.60) scale(1,1.035)" font-size="24" font-weight="bold" text-anchor="middle" fill="#000" >LN229</text>
<line x1="378.60" y1="905.00" x2="378.60" y2="911.00" stroke="#000" stroke-width="2.5" stroke-linecap="butt"/>
<text transform="translate(377.80,934.60) scale(1,1.035)" font-size="24" font-weight="bold" text-anchor="middle" fill="#000" >T98G</text>
<line x1="451.70" y1="905.00" x2="451.70" y2="911.00" stroke="#000" stroke-width="2.5" stroke-linecap="butt"/>
<text transform="translate(450.90,934.60) scale(1,1.035)" font-size="24" font-weight="bold" text-anchor="middle" fill="#000" >U373</text>
<path d="M210.00,903.00 L210.00,863.70 L253.60,863.70 L253.60,903.00" fill="none" stroke="#F47F20" stroke-width="5.0" stroke-linejoin="miter"/>
<path d="M283.10,903.00 L283.10,811.70 L326.50,811.70 L326.50,903.00" fill="none" stroke="#5E98D6" stroke-width="5.0" stroke-linejoin="miter"/>
<path d="M357.50,903.00 L357.50,812.70 L401.20,812.70 L401.20,903.00" fill="none" stroke="#2DB04A" stroke-width="5.0" stroke-linejoin="miter"/>
<path d="M430.50,903.00 L430.50,771.00 L474.20,771.00 L474.20,903.00" fill="none" stroke="#E6A6D0" stroke-width="5.0" stroke-linejoin="miter"/>
<line x1="231.40" y1="855.60" x2="231.40" y2="866.40" stroke="#F47F20" stroke-width="4.5" stroke-linecap="butt"/>
<line x1="219.40" y1="855.60" x2="243.40" y2="855.60" stroke="#F47F20" stroke-width="4.0" stroke-linecap="butt"/>
<line x1="219.40" y1="866.40" x2="243.40" y2="866.40" stroke="#F47F20" stroke-width="4.0" stroke-linecap="butt"/>
<line x1="305.05" y1="795.00" x2="305.05" y2="822.70" stroke="#5E98D6" stroke-width="4.5" stroke-linecap="butt"/>
<line x1="293.00" y1="795.00" x2="317.10" y2="795.00" stroke="#5E98D6" stroke-width="4.0" stroke-linecap="butt"/>
<line x1="293.00" y1="822.70" x2="317.10" y2="822.70" stroke="#5E98D6" stroke-width="4.0" stroke-linecap="butt"/>
<line x1="378.40" y1="804.60" x2="378.40" y2="816.50" stroke="#2DB04A" stroke-width="4.5" stroke-linecap="butt"/>
<line x1="366.00" y1="804.60" x2="390.80" y2="804.60" stroke="#2DB04A" stroke-width="4.0" stroke-linecap="butt"/>
<line x1="366.00" y1="816.50" x2="390.80" y2="816.50" stroke="#2DB04A" stroke-width="4.0" stroke-linecap="butt"/>
<line x1="452.00" y1="765.00" x2="452.00" y2="770.00" stroke="#E6A6D0" stroke-width="4.5" stroke-linecap="butt"/>
<line x1="440.00" y1="765.00" x2="464.00" y2="765.00" stroke="#E6A6D0" stroke-width="4.0" stroke-linecap="butt"/>
<line x1="440.00" y1="770.00" x2="464.00" y2="770.00" stroke="#E6A6D0" stroke-width="4.0" stroke-linecap="butt"/>
<circle cx="219.40" cy="856.00" r="4.6" fill="#000"/>
<circle cx="232.30" cy="865.00" r="4.6" fill="#000"/>
<circle cx="244.80" cy="862.40" r="4.6" fill="#000"/>
<circle cx="298.80" cy="798.30" r="4.6" fill="#000"/>
<circle cx="311.90" cy="805.00" r="4.6" fill="#000"/>
<circle cx="305.20" cy="824.60" r="4.6" fill="#000"/>
<circle cx="365.60" cy="804.00" r="4.6" fill="#000"/>
<circle cx="378.70" cy="813.70" r="4.6" fill="#000"/>
<circle cx="391.50" cy="813.10" r="4.6" fill="#000"/>
<circle cx="439.20" cy="765.70" r="4.6" fill="#000"/>
<circle cx="452.30" cy="769.60" r="4.6" fill="#000"/>
<circle cx="464.30" cy="768.00" r="4.6" fill="#000"/>
<line x1="315.10" y1="711.20" x2="452.10" y2="711.20" stroke="#000" stroke-width="4.2" stroke-linecap="butt"/>
<text x="373.80" y="715.94" font-size="34" font-weight="bold" text-anchor="middle">*</text>
<text x="390.20" y="715.94" font-size="34" font-weight="bold" text-anchor="middle">*</text>
<line x1="230.90" y1="749.30" x2="369.00" y2="749.30" stroke="#000" stroke-width="4.2" stroke-linecap="butt"/>
<text x="275.50" y="754.04" font-size="34" font-weight="bold" text-anchor="middle">*</text>
<text x="291.90" y="754.04" font-size="34" font-weight="bold" text-anchor="middle">*</text>
<text x="308.30" y="754.04" font-size="34" font-weight="bold" text-anchor="middle">*</text>
<line x1="382.40" y1="749.30" x2="451.00" y2="749.30" stroke="#000" stroke-width="4.2" stroke-linecap="butt"/>
<text x="407.80" y="754.04" font-size="34" font-weight="bold" text-anchor="middle">*</text>
<text x="424.20" y="754.04" font-size="34" font-weight="bold" text-anchor="middle">*</text>
<line x1="234.20" y1="780.10" x2="301.30" y2="780.10" stroke="#000" stroke-width="4.2" stroke-linecap="butt"/>
<text x="248.10" y="784.84" font-size="34" font-weight="bold" text-anchor="middle">*</text>
<text x="264.50" y="784.84" font-size="34" font-weight="bold" text-anchor="middle">*</text>
<text x="280.90" y="784.84" font-size="34" font-weight="bold" text-anchor="middle">*</text>
<text transform="translate(131.80,793.80) rotate(-90) scale(1,1.035)" x="0" y="0" font-size="26" font-weight="bold" text-anchor="middle" fill="#000">specific FI</text>
<text transform="translate(841.80,669.20) scale(1,1.035)" font-size="35.5" font-weight="bold" text-anchor="middle" fill="#000" >CD81</text>
<line x1="679.40" y1="904.80" x2="685.90" y2="904.80" stroke="#000" stroke-width="2.6" stroke-linecap="butt"/>
<text transform="translate(672.40,912.40) scale(1,1.035)" font-size="23" font-weight="bold" text-anchor="end" fill="#000" >0</text>
<line x1="679.40" y1="834.50" x2="685.90" y2="834.50" stroke="#000" stroke-width="2.6" stroke-linecap="butt"/>
<text transform="translate(672.40,842.10) scale(1,1.035)" font-size="23" font-weight="bold" text-anchor="end" fill="#000" >5</text>
<line x1="679.40" y1="764.20" x2="685.90" y2="764.20" stroke="#000" stroke-width="2.6" stroke-linecap="butt"/>
<text transform="translate(672.40,771.80) scale(1,1.035)" font-size="23" font-weight="bold" text-anchor="end" fill="#000" >10</text>
<line x1="679.40" y1="693.90" x2="685.90" y2="693.90" stroke="#000" stroke-width="2.6" stroke-linecap="butt"/>
<text transform="translate(672.40,701.50) scale(1,1.035)" font-size="23" font-weight="bold" text-anchor="end" fill="#000" >15</text>
<line x1="685.90" y1="692.70" x2="685.90" y2="906.10" stroke="#000" stroke-width="2.6" stroke-linecap="butt"/>
<line x1="679.40" y1="904.80" x2="1002.90" y2="904.80" stroke="#000" stroke-width="3.2" stroke-linecap="butt"/>
<line x1="735.30" y1="904.80" x2="735.30" y2="910.80" stroke="#000" stroke-width="2.5" stroke-linecap="butt"/>
<text transform="translate(734.50,934.60) scale(1,1.035)" font-size="24" font-weight="bold" text-anchor="middle" fill="#000" >A172</text>
<line x1="808.40" y1="904.80" x2="808.40" y2="910.80" stroke="#000" stroke-width="2.5" stroke-linecap="butt"/>
<text transform="translate(807.60,934.60) scale(1,1.035)" font-size="24" font-weight="bold" text-anchor="middle" fill="#000" >LN229</text>
<line x1="881.50" y1="904.80" x2="881.50" y2="910.80" stroke="#000" stroke-width="2.5" stroke-linecap="butt"/>
<text transform="translate(880.70,934.60) scale(1,1.035)" font-size="24" font-weight="bold" text-anchor="middle" fill="#000" >T98G</text>
<line x1="954.60" y1="904.80" x2="954.60" y2="910.80" stroke="#000" stroke-width="2.5" stroke-linecap="butt"/>
<text transform="translate(953.80,934.60) scale(1,1.035)" font-size="24" font-weight="bold" text-anchor="middle" fill="#000" >U373</text>
<path d="M712.80,902.80 L712.80,888.00 L756.20,888.00 L756.20,902.80" fill="none" stroke="#F47F20" stroke-width="5.0" stroke-linejoin="miter"/>
<path d="M785.80,902.80 L785.80,884.80 L828.90,884.80 L828.90,902.80" fill="none" stroke="#5E98D6" stroke-width="5.0" stroke-linejoin="miter"/>
<path d="M860.50,902.80 L860.50,882.20 L903.30,882.20 L903.30,902.80" fill="none" stroke="#2DB04A" stroke-width="5.0" stroke-linejoin="miter"/>
<path d="M933.50,902.80 L933.50,877.90 L976.60,877.90 L976.60,902.80" fill="none" stroke="#E6A6D0" stroke-width="5.0" stroke-linejoin="miter"/>
<line x1="734.70" y1="881.00" x2="734.70" y2="888.00" stroke="#F47F20" stroke-width="4.5" stroke-linecap="butt"/>
<line x1="722.70" y1="881.00" x2="746.70" y2="881.00" stroke="#F47F20" stroke-width="4.0" stroke-linecap="butt"/>
<line x1="722.70" y1="888.00" x2="746.70" y2="888.00" stroke="#F47F20" stroke-width="4.0" stroke-linecap="butt"/>
<line x1="807.80" y1="878.80" x2="807.80" y2="883.70" stroke="#5E98D6" stroke-width="4.5" stroke-linecap="butt"/>
<line x1="795.80" y1="878.80" x2="819.80" y2="878.80" stroke="#5E98D6" stroke-width="4.0" stroke-linecap="butt"/>
<line x1="795.80" y1="883.70" x2="819.80" y2="883.70" stroke="#5E98D6" stroke-width="4.0" stroke-linecap="butt"/>
<line x1="881.00" y1="874.00" x2="881.00" y2="886.00" stroke="#2DB04A" stroke-width="4.5" stroke-linecap="butt"/>
<line x1="869.00" y1="874.00" x2="893.00" y2="874.00" stroke="#2DB04A" stroke-width="4.0" stroke-linecap="butt"/>
<line x1="869.00" y1="886.00" x2="893.00" y2="886.00" stroke="#2DB04A" stroke-width="4.0" stroke-linecap="butt"/>
<line x1="955.00" y1="868.70" x2="955.00" y2="880.90" stroke="#E6A6D0" stroke-width="4.5" stroke-linecap="butt"/>
<line x1="943.00" y1="868.70" x2="967.00" y2="868.70" stroke="#E6A6D0" stroke-width="4.0" stroke-linecap="butt"/>
<line x1="943.00" y1="880.90" x2="967.00" y2="880.90" stroke="#E6A6D0" stroke-width="4.0" stroke-linecap="butt"/>
<circle cx="722.40" cy="883.70" r="4.6" fill="#000"/>
<circle cx="734.80" cy="886.60" r="4.6" fill="#000"/>
<circle cx="747.20" cy="885.20" r="4.6" fill="#000"/>
<circle cx="795.40" cy="879.70" r="4.6" fill="#000"/>
<circle cx="807.80" cy="883.20" r="4.6" fill="#000"/>
<circle cx="820.80" cy="883.20" r="4.6" fill="#000"/>
<circle cx="868.90" cy="875.40" r="4.6" fill="#000"/>
<circle cx="881.90" cy="883.70" r="4.6" fill="#000"/>
<circle cx="894.00" cy="879.40" r="4.6" fill="#000"/>
<circle cx="942.50" cy="870.80" r="4.6" fill="#000"/>
<circle cx="955.50" cy="880.30" r="4.6" fill="#000"/>
<circle cx="967.90" cy="873.70" r="4.6" fill="#000"/>
<text transform="translate(634.70,793.60) rotate(-90) scale(1,1.035)" x="0" y="0" font-size="26" font-weight="bold" text-anchor="middle" fill="#000">specific FI</text>
<text transform="translate(363.40,1040.70) scale(1,1.035)" font-size="29.5" font-weight="bold" text-anchor="middle" fill="#000" >Controls to irradiation</text>
<text transform="translate(363.40,1075.00) scale(1,1.035)" font-size="29.5" font-weight="bold" text-anchor="middle" fill="#000" >with photons</text>
<text transform="translate(863.00,1040.70) scale(1,1.035)" font-size="29.5" font-weight="bold" text-anchor="middle" fill="#000" >Controls to irradiation</text>
<text transform="translate(863.00,1075.40) scale(1,1.035)" font-size="29.5" font-weight="bold" text-anchor="middle" fill="#000" >with high LET protons</text>
<text transform="translate(27.40,1118.20) scale(1,1.0)" font-size="30" font-weight="bold" text-anchor="start" fill="#000" >C</text>
<text transform="translate(55.60,1247.90) rotate(-90) scale(1,1.035)" x="0" y="0" font-size="41" font-weight="bold" text-anchor="middle" fill="#000">CD9</text>
<text transform="translate(55.60,1538.80) rotate(-90) scale(1,1.035)" x="0" y="0" font-size="41" font-weight="bold" text-anchor="middle" fill="#000">CD81</text>
<line x1="224.30" y1="1350.20" x2="230.30" y2="1350.20" stroke="#000" stroke-width="2.6" stroke-linecap="butt"/>
<text transform="translate(217.80,1358.00) scale(1,1.035)" font-size="23" font-weight="bold" text-anchor="end" fill="#000" >0</text>
<line x1="224.30" y1="1297.17" x2="230.30" y2="1297.17" stroke="#000" stroke-width="2.6" stroke-linecap="butt"/>
<text transform="translate(220.10,1304.97) scale(1,1.01)" font-size="23" font-weight="bold" text-anchor="end">5<tspan font-weight="normal" font-size="20" dx="0.6" dy="1.2">×</tspan><tspan dx="2.6" dy="-1.2">10</tspan><tspan font-size="16" dy="-7.6" dx="1.3">5</tspan></text>
<line x1="224.30" y1="1244.15" x2="230.30" y2="1244.15" stroke="#000" stroke-width="2.6" stroke-linecap="butt"/>
<text transform="translate(220.10,1251.95) scale(1,1.01)" font-size="23" font-weight="bold" text-anchor="end">1<tspan font-weight="normal" font-size="20" dx="0.6" dy="1.2">×</tspan><tspan dx="2.6" dy="-1.2">10</tspan><tspan font-size="16" dy="-7.6" dx="1.3">6</tspan></text>
<line x1="224.30" y1="1191.12" x2="230.30" y2="1191.12" stroke="#000" stroke-width="2.6" stroke-linecap="butt"/>
<text transform="translate(220.10,1198.92) scale(1,1.01)" font-size="23" font-weight="bold" text-anchor="end">1.5<tspan font-weight="normal" font-size="20" dx="0.6" dy="1.2">×</tspan><tspan dx="2.6" dy="-1.2">10</tspan><tspan font-size="16" dy="-7.6" dx="1.3">6</tspan></text>
<line x1="224.30" y1="1138.10" x2="230.30" y2="1138.10" stroke="#000" stroke-width="2.6" stroke-linecap="butt"/>
<text transform="translate(220.10,1145.90) scale(1,1.01)" font-size="23" font-weight="bold" text-anchor="end">2<tspan font-weight="normal" font-size="20" dx="0.6" dy="1.2">×</tspan><tspan dx="2.6" dy="-1.2">10</tspan><tspan font-size="16" dy="-7.6" dx="1.3">6</tspan></text>
<line x1="230.30" y1="1136.90" x2="230.30" y2="1351.50" stroke="#000" stroke-width="2.6" stroke-linecap="butt"/>
<line x1="224.30" y1="1350.20" x2="550.00" y2="1350.20" stroke="#000" stroke-width="3.2" stroke-linecap="butt"/>
<line x1="278.80" y1="1350.20" x2="278.80" y2="1356.20" stroke="#000" stroke-width="2.5" stroke-linecap="butt"/>
<text transform="translate(278.00,1379.50) scale(1,1.035)" font-size="24" font-weight="bold" text-anchor="middle" fill="#000" >A172</text>
<line x1="352.00" y1="1350.20" x2="352.00" y2="1356.20" stroke="#000" stroke-width="2.5" stroke-linecap="butt"/>
<text transform="translate(351.20,1379.50) scale(1,1.035)" font-size="24" font-weight="bold" text-anchor="middle" fill="#000" >LN229</text>
<line x1="425.20" y1="1350.20" x2="425.20" y2="1356.20" stroke="#000" stroke-width="2.5" stroke-linecap="butt"/>
<text transform="translate(424.40,1379.50) scale(1,1.035)" font-size="24" font-weight="bold" text-anchor="middle" fill="#000" >T98G</text>
<line x1="498.40" y1="1350.20" x2="498.40" y2="1356.20" stroke="#000" stroke-width="2.5" stroke-linecap="butt"/>
<text transform="translate(497.60,1379.50) scale(1,1.035)" font-size="24" font-weight="bold" text-anchor="middle" fill="#000" >U373</text>
<path d="M256.90,1348.20 L256.90,1331.10 L299.70,1331.10 L299.70,1348.20" fill="none" stroke="#4753B1" stroke-width="5.0"/>
<path d="M330.40,1348.20 L330.40,1349.10 L373.90,1349.10 L373.90,1348.20" fill="none" stroke="#4753B1" stroke-width="5.0"/>
<path d="M403.80,1348.20 L403.80,1248.30 L447.30,1248.30 L447.30,1348.20" fill="none" stroke="#4753B1" stroke-width="5.0"/>
<path d="M476.70,1348.20 L476.70,1343.50 L520.20,1343.50 L520.20,1348.20" fill="none" stroke="#4753B1" stroke-width="5.0"/>
<line x1="278.65" y1="1322.60" x2="278.65" y2="1334.40" stroke="#4753B1" stroke-width="5.0" stroke-linecap="butt"/>
<line x1="267.50" y1="1322.60" x2="289.80" y2="1322.60" stroke="#4753B1" stroke-width="4.7" stroke-linecap="butt"/>
<line x1="267.50" y1="1334.40" x2="289.80" y2="1334.40" stroke="#4753B1" stroke-width="4.7" stroke-linecap="butt"/>
<line x1="352.00" y1="1345.00" x2="352.00" y2="1348.00" stroke="#4753B1" stroke-width="5.0" stroke-linecap="butt"/>
<line x1="340.00" y1="1345.00" x2="364.00" y2="1345.00" stroke="#4753B1" stroke-width="4.7" stroke-linecap="butt"/>
<line x1="340.00" y1="1348.00" x2="364.00" y2="1348.00" stroke="#4753B1" stroke-width="4.7" stroke-linecap="butt"/>
<line x1="425.05" y1="1226.50" x2="425.05" y2="1264.60" stroke="#4753B1" stroke-width="5.0" stroke-linecap="butt"/>
<line x1="413.30" y1="1226.50" x2="436.80" y2="1226.50" stroke="#4753B1" stroke-width="4.7" stroke-linecap="butt"/>
<line x1="413.30" y1="1264.60" x2="436.80" y2="1264.60" stroke="#4753B1" stroke-width="4.7" stroke-linecap="butt"/>
<line x1="498.00" y1="1336.80" x2="498.00" y2="1344.00" stroke="#4753B1" stroke-width="5.0" stroke-linecap="butt"/>
<line x1="486.00" y1="1336.80" x2="510.00" y2="1336.80" stroke="#4753B1" stroke-width="4.7" stroke-linecap="butt"/>
<line x1="486.00" y1="1344.00" x2="510.00" y2="1344.00" stroke="#4753B1" stroke-width="4.7" stroke-linecap="butt"/>
<circle cx="260.20" cy="1324.40" r="4.5" fill="#000"/>
<circle cx="269.40" cy="1329.20" r="4.5" fill="#000"/>
<circle cx="278.60" cy="1320.80" r="4.5" fill="#000"/>
<circle cx="278.60" cy="1337.00" r="4.5" fill="#000"/>
<circle cx="288.00" cy="1334.40" r="4.5" fill="#000"/>
<circle cx="297.20" cy="1325.80" r="4.5" fill="#000"/>
<circle cx="339.70" cy="1346.20" r="4.5" fill="#000"/>
<circle cx="346.20" cy="1345.60" r="4.5" fill="#000"/>
<circle cx="352.80" cy="1346.60" r="4.5" fill="#000"/>
<circle cx="359.30" cy="1345.80" r="4.5" fill="#000"/>
<circle cx="364.60" cy="1346.40" r="4.5" fill="#000"/>
<circle cx="349.50" cy="1347.00" r="4.5" fill="#000"/>
<circle cx="412.60" cy="1228.60" r="4.5" fill="#000"/>
<circle cx="418.90" cy="1233.80" r="4.5" fill="#000"/>
<circle cx="432.20" cy="1225.90" r="4.5" fill="#000"/>
<circle cx="432.20" cy="1246.40" r="4.5" fill="#000"/>
<circle cx="432.20" cy="1267.40" r="4.5" fill="#000"/>
<circle cx="418.50" cy="1271.60" r="4.5" fill="#000"/>
<circle cx="486.50" cy="1339.70" r="4.5" fill="#000"/>
<circle cx="493.10" cy="1338.30" r="4.5" fill="#000"/>
<circle cx="504.90" cy="1333.10" r="4.5" fill="#000"/>
<circle cx="511.40" cy="1339.70" r="4.5" fill="#000"/>
<circle cx="494.40" cy="1346.20" r="4.5" fill="#000"/>
<circle cx="502.30" cy="1344.90" r="4.5" fill="#000"/>
<line x1="286.20" y1="1165.70" x2="418.00" y2="1165.70" stroke="#000" stroke-width="4.4" stroke-linecap="butt"/>
<text x="325.30" y="1170.99" font-size="43" font-weight="bold" text-anchor="middle">*</text>
<text x="343.20" y="1170.99" font-size="43" font-weight="bold" text-anchor="middle">*</text>
<text x="361.10" y="1170.99" font-size="43" font-weight="bold" text-anchor="middle">*</text>
<line x1="356.00" y1="1204.50" x2="418.90" y2="1204.50" stroke="#000" stroke-width="4.4" stroke-linecap="butt"/>
<text x="370.10" y="1209.79" font-size="43" font-weight="bold" text-anchor="middle">*</text>
<text x="388.00" y="1209.79" font-size="43" font-weight="bold" text-anchor="middle">*</text>
<text x="405.90" y="1209.79" font-size="43" font-weight="bold" text-anchor="middle">*</text>
<line x1="432.60" y1="1204.50" x2="495.10" y2="1204.50" stroke="#000" stroke-width="4.4" stroke-linecap="butt"/>
<text x="446.10" y="1209.79" font-size="43" font-weight="bold" text-anchor="middle">*</text>
<text x="464.00" y="1209.79" font-size="43" font-weight="bold" text-anchor="middle">*</text>
<text x="481.90" y="1209.79" font-size="43" font-weight="bold" text-anchor="middle">*</text>
<line x1="277.20" y1="1288.50" x2="341.50" y2="1288.50" stroke="#000" stroke-width="4.4" stroke-linecap="butt"/>
<text x="306.10" y="1293.79" font-size="43" font-weight="bold" text-anchor="middle">*</text>
<text transform="translate(123.10,1239.70) rotate(-90) scale(1,0.97)" x="0" y="0" font-size="26" font-weight="bold" text-anchor="middle" fill="#000">objects / ml</text>
<line x1="716.50" y1="1350.00" x2="722.50" y2="1350.00" stroke="#000" stroke-width="2.6" stroke-linecap="butt"/>
<text transform="translate(710.00,1357.80) scale(1,1.035)" font-size="23" font-weight="bold" text-anchor="end" fill="#000" >0</text>
<line x1="716.50" y1="1296.83" x2="722.50" y2="1296.83" stroke="#000" stroke-width="2.6" stroke-linecap="butt"/>
<text transform="translate(712.30,1304.62) scale(1,1.01)" font-size="23" font-weight="bold" text-anchor="end">5<tspan font-weight="normal" font-size="20" dx="0.6" dy="1.2">×</tspan><tspan dx="2.6" dy="-1.2">10</tspan><tspan font-size="16" dy="-7.6" dx="1.3">6</tspan></text>
<line x1="716.50" y1="1243.65" x2="722.50" y2="1243.65" stroke="#000" stroke-width="2.6" stroke-linecap="butt"/>
<text transform="translate(712.30,1251.45) scale(1,1.01)" font-size="23" font-weight="bold" text-anchor="end">1<tspan font-weight="normal" font-size="20" dx="0.6" dy="1.2">×</tspan><tspan dx="2.6" dy="-1.2">10</tspan><tspan font-size="16" dy="-7.6" dx="1.3">7</tspan></text>
<line x1="716.50" y1="1190.47" x2="722.50" y2="1190.47" stroke="#000" stroke-width="2.6" stroke-linecap="butt"/>
<text transform="translate(712.30,1198.27) scale(1,1.01)" font-size="23" font-weight="bold" text-anchor="end">1.5<tspan font-weight="normal" font-size="20" dx="0.6" dy="1.2">×</tspan><tspan dx="2.6" dy="-1.2">10</tspan><tspan font-size="16" dy="-7.6" dx="1.3">7</tspan></text>
<line x1="716.50" y1="1137.30" x2="722.50" y2="1137.30" stroke="#000" stroke-width="2.6" stroke-linecap="butt"/>
<text transform="translate(712.30,1145.10) scale(1,1.01)" font-size="23" font-weight="bold" text-anchor="end">2<tspan font-weight="normal" font-size="20" dx="0.6" dy="1.2">×</tspan><tspan dx="2.6" dy="-1.2">10</tspan><tspan font-size="16" dy="-7.6" dx="1.3">7</tspan></text>
<line x1="722.50" y1="1136.10" x2="722.50" y2="1351.30" stroke="#000" stroke-width="2.6" stroke-linecap="butt"/>
<line x1="716.50" y1="1350.00" x2="1043.00" y2="1350.00" stroke="#000" stroke-width="3.2" stroke-linecap="butt"/>
<line x1="771.00" y1="1350.00" x2="771.00" y2="1356.00" stroke="#000" stroke-width="2.5" stroke-linecap="butt"/>
<text transform="translate(770.20,1379.50) scale(1,1.035)" font-size="24" font-weight="bold" text-anchor="middle" fill="#000" >A172</text>
<line x1="844.75" y1="1350.00" x2="844.75" y2="1356.00" stroke="#000" stroke-width="2.5" stroke-linecap="butt"/>
<text transform="translate(843.95,1379.50) scale(1,1.035)" font-size="24" font-weight="bold" text-anchor="middle" fill="#000" >LN229</text>
<line x1="918.50" y1="1350.00" x2="918.50" y2="1356.00" stroke="#000" stroke-width="2.5" stroke-linecap="butt"/>
<text transform="translate(917.70,1379.50) scale(1,1.035)" font-size="24" font-weight="bold" text-anchor="middle" fill="#000" >T98G</text>
<line x1="992.25" y1="1350.00" x2="992.25" y2="1356.00" stroke="#000" stroke-width="2.5" stroke-linecap="butt"/>
<text transform="translate(991.45,1379.50) scale(1,1.035)" font-size="24" font-weight="bold" text-anchor="middle" fill="#000" >U373</text>
<path d="M749.90,1348.00 L749.90,1344.60 L792.10,1344.60 L792.10,1348.00" fill="none" stroke="#E5242A" stroke-width="5.0"/>
<path d="M823.50,1348.00 L823.50,1350.50 L866.00,1350.50 L866.00,1348.00" fill="none" stroke="#E5242A" stroke-width="5.0"/>
<path d="M897.40,1348.00 L897.40,1285.60 L939.60,1285.60 L939.60,1348.00" fill="none" stroke="#E5242A" stroke-width="5.0"/>
<path d="M971.00,1348.00 L971.00,1350.00 L1013.50,1350.00 L1013.50,1348.00" fill="none" stroke="#E5242A" stroke-width="5.0"/>
<line x1="771.00" y1="1333.00" x2="771.00" y2="1347.00" stroke="#E5242A" stroke-width="5.0" stroke-linecap="butt"/>
<line x1="759.00" y1="1333.00" x2="783.00" y2="1333.00" stroke="#E5242A" stroke-width="4.7" stroke-linecap="butt"/>
<line x1="759.00" y1="1347.00" x2="783.00" y2="1347.00" stroke="#E5242A" stroke-width="4.7" stroke-linecap="butt"/>
<line x1="845.00" y1="1347.00" x2="845.00" y2="1349.00" stroke="#E5242A" stroke-width="5.0" stroke-linecap="butt"/>
<line x1="833.00" y1="1347.00" x2="857.00" y2="1347.00" stroke="#E5242A" stroke-width="4.7" stroke-linecap="butt"/>
<line x1="833.00" y1="1349.00" x2="857.00" y2="1349.00" stroke="#E5242A" stroke-width="4.7" stroke-linecap="butt"/>
<line x1="915.55" y1="1227.20" x2="915.55" y2="1337.40" stroke="#E5242A" stroke-width="5.0" stroke-linecap="butt"/>
<line x1="902.00" y1="1227.20" x2="929.10" y2="1227.20" stroke="#E5242A" stroke-width="4.7" stroke-linecap="butt"/>
<line x1="902.00" y1="1337.40" x2="929.10" y2="1337.40" stroke="#E5242A" stroke-width="4.7" stroke-linecap="butt"/>
<line x1="992.00" y1="1346.00" x2="992.00" y2="1348.50" stroke="#E5242A" stroke-width="5.0" stroke-linecap="butt"/>
<line x1="980.00" y1="1346.00" x2="1004.00" y2="1346.00" stroke="#E5242A" stroke-width="4.7" stroke-linecap="butt"/>
<line x1="980.00" y1="1348.50" x2="1004.00" y2="1348.50" stroke="#E5242A" stroke-width="4.7" stroke-linecap="butt"/>
<circle cx="753.30" cy="1342.90" r="4.5" fill="#000"/>
<circle cx="765.80" cy="1333.00" r="4.5" fill="#000"/>
<circle cx="778.00" cy="1334.20" r="4.5" fill="#000"/>
<circle cx="790.60" cy="1342.10" r="4.5" fill="#000"/>
<circle cx="765.80" cy="1347.20" r="4.5" fill="#000"/>
<circle cx="778.00" cy="1347.20" r="4.5" fill="#000"/>
<circle cx="829.00" cy="1347.50" r="4.5" fill="#000"/>
<circle cx="837.00" cy="1347.50" r="4.5" fill="#000"/>
<circle cx="845.00" cy="1347.20" r="4.5" fill="#000"/>
<circle cx="853.00" cy="1347.50" r="4.5" fill="#000"/>
<circle cx="861.00" cy="1347.30" r="4.5" fill="#000"/>
<circle cx="849.00" cy="1348.00" r="4.5" fill="#000"/>
<circle cx="918.50" cy="1200.50" r="4.5" fill="#000"/>
<circle cx="918.50" cy="1248.90" r="4.5" fill="#000"/>
<circle cx="911.80" cy="1279.20" r="4.5" fill="#000"/>
<circle cx="924.40" cy="1283.90" r="4.5" fill="#000"/>
<circle cx="912.60" cy="1342.90" r="4.5" fill="#000"/>
<circle cx="924.40" cy="1342.10" r="4.5" fill="#000"/>
<circle cx="983.00" cy="1347.00" r="4.5" fill="#000"/>
<circle cx="990.00" cy="1346.50" r="4.5" fill="#000"/>
<circle cx="997.00" cy="1347.00" r="4.5" fill="#000"/>
<circle cx="1004.00" cy="1346.60" r="4.5" fill="#000"/>
<circle cx="1011.00" cy="1347.00" r="4.5" fill="#000"/>
<circle cx="995.00" cy="1348.00" r="4.5" fill="#000"/>
<line x1="779.60" y1="1143.60" x2="910.60" y2="1143.60" stroke="#000" stroke-width="4.4" stroke-linecap="butt"/>
<text x="832.75" y="1148.89" font-size="43" font-weight="bold" text-anchor="middle">*</text>
<text x="850.65" y="1148.89" font-size="43" font-weight="bold" text-anchor="middle">*</text>
<line x1="848.90" y1="1182.80" x2="910.60" y2="1182.80" stroke="#000" stroke-width="4.4" stroke-linecap="butt"/>
<text x="869.75" y="1188.09" font-size="43" font-weight="bold" text-anchor="middle">*</text>
<text x="887.65" y="1188.09" font-size="43" font-weight="bold" text-anchor="middle">*</text>
<line x1="925.20" y1="1182.80" x2="988.10" y2="1182.80" stroke="#000" stroke-width="4.4" stroke-linecap="butt"/>
<text x="945.55" y="1188.09" font-size="43" font-weight="bold" text-anchor="middle">*</text>
<text x="963.45" y="1188.09" font-size="43" font-weight="bold" text-anchor="middle">*</text>
<text transform="translate(616.50,1239.70) rotate(-90) scale(1,0.97)" x="0" y="0" font-size="26" font-weight="bold" text-anchor="middle" fill="#000">objects / ml</text>
<line x1="224.30" y1="1643.80" x2="230.30" y2="1643.80" stroke="#000" stroke-width="2.6" stroke-linecap="butt"/>
<text transform="translate(217.80,1651.60) scale(1,1.035)" font-size="23" font-weight="bold" text-anchor="end" fill="#000" >0</text>
<line x1="224.30" y1="1573.07" x2="230.30" y2="1573.07" stroke="#000" stroke-width="2.6" stroke-linecap="butt"/>
<text transform="translate(220.10,1580.87) scale(1,1.01)" font-size="23" font-weight="bold" text-anchor="end">1<tspan font-weight="normal" font-size="20" dx="0.6" dy="1.2">×</tspan><tspan dx="2.6" dy="-1.2">10</tspan><tspan font-size="16" dy="-7.6" dx="1.3">6</tspan></text>
<line x1="224.30" y1="1502.33" x2="230.30" y2="1502.33" stroke="#000" stroke-width="2.6" stroke-linecap="butt"/>
<text transform="translate(220.10,1510.13) scale(1,1.01)" font-size="23" font-weight="bold" text-anchor="end">2<tspan font-weight="normal" font-size="20" dx="0.6" dy="1.2">×</tspan><tspan dx="2.6" dy="-1.2">10</tspan><tspan font-size="16" dy="-7.6" dx="1.3">6</tspan></text>
<line x1="224.30" y1="1431.60" x2="230.30" y2="1431.60" stroke="#000" stroke-width="2.6" stroke-linecap="butt"/>
<text transform="translate(220.10,1439.40) scale(1,1.01)" font-size="23" font-weight="bold" text-anchor="end">3<tspan font-weight="normal" font-size="20" dx="0.6" dy="1.2">×</tspan><tspan dx="2.6" dy="-1.2">10</tspan><tspan font-size="16" dy="-7.6" dx="1.3">6</tspan></text>
<line x1="230.30" y1="1430.40" x2="230.30" y2="1645.10" stroke="#000" stroke-width="2.6" stroke-linecap="butt"/>
<line x1="224.30" y1="1643.80" x2="550.00" y2="1643.80" stroke="#000" stroke-width="3.2" stroke-linecap="butt"/>
<line x1="278.80" y1="1643.80" x2="278.80" y2="1649.80" stroke="#000" stroke-width="2.5" stroke-linecap="butt"/>
<text transform="translate(278.00,1672.80) scale(1,1.035)" font-size="24" font-weight="bold" text-anchor="middle" fill="#000" >A172</text>
<line x1="352.20" y1="1643.80" x2="352.20" y2="1649.80" stroke="#000" stroke-width="2.5" stroke-linecap="butt"/>
<text transform="translate(351.40,1672.80) scale(1,1.035)" font-size="24" font-weight="bold" text-anchor="middle" fill="#000" >LN229</text>
<line x1="424.90" y1="1643.80" x2="424.90" y2="1649.80" stroke="#000" stroke-width="2.5" stroke-linecap="butt"/>
<text transform="translate(424.10,1672.80) scale(1,1.035)" font-size="24" font-weight="bold" text-anchor="middle" fill="#000" >T98G</text>
<line x1="499.10" y1="1643.80" x2="499.10" y2="1649.80" stroke="#000" stroke-width="2.5" stroke-linecap="butt"/>
<text transform="translate(498.30,1672.80) scale(1,1.035)" font-size="24" font-weight="bold" text-anchor="middle" fill="#000" >U373</text>
<path d="M256.90,1641.80 L256.90,1549.20 L299.70,1549.20 L299.70,1641.80" fill="none" stroke="#4753B1" stroke-width="5.0"/>
<path d="M329.80,1641.80 L329.80,1611.70 L373.90,1611.70 L373.90,1641.80" fill="none" stroke="#4753B1" stroke-width="5.0"/>
<path d="M403.80,1641.80 L403.80,1559.10 L447.30,1559.10 L447.30,1641.80" fill="none" stroke="#4753B1" stroke-width="5.0"/>
<line x1="278.35" y1="1511.50" x2="278.35" y2="1581.40" stroke="#4753B1" stroke-width="5.0" stroke-linecap="butt"/>
<line x1="266.20" y1="1511.50" x2="290.50" y2="1511.50" stroke="#4753B1" stroke-width="4.7" stroke-linecap="butt"/>
<line x1="266.20" y1="1581.40" x2="290.50" y2="1581.40" stroke="#4753B1" stroke-width="4.7" stroke-linecap="butt"/>
<line x1="351.85" y1="1587.20" x2="351.85" y2="1631.80" stroke="#4753B1" stroke-width="5.0" stroke-linecap="butt"/>
<line x1="339.70" y1="1587.20" x2="364.00" y2="1587.20" stroke="#4753B1" stroke-width="4.7" stroke-linecap="butt"/>
<line x1="339.70" y1="1631.80" x2="364.00" y2="1631.80" stroke="#4753B1" stroke-width="4.7" stroke-linecap="butt"/>
<line x1="425.25" y1="1532.40" x2="425.25" y2="1582.00" stroke="#4753B1" stroke-width="5.0" stroke-linecap="butt"/>
<line x1="413.30" y1="1532.40" x2="437.20" y2="1532.40" stroke="#4753B1" stroke-width="4.7" stroke-linecap="butt"/>
<line x1="413.30" y1="1582.00" x2="437.20" y2="1582.00" stroke="#4753B1" stroke-width="4.7" stroke-linecap="butt"/>
<circle cx="265.40" cy="1514.10" r="4.5" fill="#000"/>
<circle cx="278.60" cy="1521.20" r="4.5" fill="#000"/>
<circle cx="291.70" cy="1521.20" r="4.5" fill="#000"/>
<circle cx="278.60" cy="1542.90" r="4.5" fill="#000"/>
<circle cx="271.50" cy="1589.80" r="4.5" fill="#000"/>
<circle cx="285.10" cy="1589.80" r="4.5" fill="#000"/>
<circle cx="345.40" cy="1580.10" r="4.5" fill="#000"/>
<circle cx="358.00" cy="1580.10" r="4.5" fill="#000"/>
<circle cx="333.10" cy="1624.70" r="4.5" fill="#000"/>
<circle cx="345.40" cy="1626.00" r="4.5" fill="#000"/>
<circle cx="358.00" cy="1624.70" r="4.5" fill="#000"/>
<circle cx="370.60" cy="1618.70" r="4.5" fill="#000"/>
<circle cx="419.10" cy="1526.70" r="4.5" fill="#000"/>
<circle cx="431.40" cy="1525.90" r="4.5" fill="#000"/>
<circle cx="418.90" cy="1561.00" r="4.5" fill="#000"/>
<circle cx="432.00" cy="1567.00" r="4.5" fill="#000"/>
<circle cx="418.90" cy="1581.40" r="4.5" fill="#000"/>
<circle cx="432.00" cy="1581.40" r="4.5" fill="#000"/>
<circle cx="486.10" cy="1638.40" r="4.5" fill="#000"/>
<circle cx="492.20" cy="1637.90" r="4.5" fill="#000"/>
<circle cx="498.70" cy="1639.00" r="4.5" fill="#000"/>
<circle cx="505.10" cy="1637.90" r="4.5" fill="#000"/>
<circle cx="511.50" cy="1638.40" r="4.5" fill="#000"/>
<circle cx="498.70" cy="1640.50" r="4.5" fill="#000"/>
<line x1="285.90" y1="1426.80" x2="484.40" y2="1426.80" stroke="#000" stroke-width="4.4" stroke-linecap="butt"/>
<text x="352.20" y="1432.09" font-size="43" font-weight="bold" text-anchor="middle">*</text>
<text x="370.10" y="1432.09" font-size="43" font-weight="bold" text-anchor="middle">*</text>
<text x="388.00" y="1432.09" font-size="43" font-weight="bold" text-anchor="middle">*</text>
<line x1="277.20" y1="1493.60" x2="341.00" y2="1493.60" stroke="#000" stroke-width="4.4" stroke-linecap="butt"/>
<text x="301.25" y="1498.89" font-size="43" font-weight="bold" text-anchor="middle">*</text>
<text x="319.15" y="1498.89" font-size="43" font-weight="bold" text-anchor="middle">*</text>
<line x1="356.20" y1="1493.60" x2="418.90" y2="1493.60" stroke="#000" stroke-width="4.4" stroke-linecap="butt"/>
<text x="385.80" y="1498.89" font-size="43" font-weight="bold" text-anchor="middle">*</text>
<line x1="432.80" y1="1493.60" x2="495.20" y2="1493.60" stroke="#000" stroke-width="4.4" stroke-linecap="butt"/>
<text x="445.70" y="1498.89" font-size="43" font-weight="bold" text-anchor="middle">*</text>
<text x="463.60" y="1498.89" font-size="43" font-weight="bold" text-anchor="middle">*</text>
<text x="481.50" y="1498.89" font-size="43" font-weight="bold" text-anchor="middle">*</text>
<text transform="translate(123.10,1534.00) rotate(-90) scale(1,0.97)" x="0" y="0" font-size="26" font-weight="bold" text-anchor="middle" fill="#000">objects / ml</text>
<line x1="719.00" y1="1644.90" x2="725.00" y2="1644.90" stroke="#000" stroke-width="2.6" stroke-linecap="butt"/>
<text transform="translate(712.50,1652.70) scale(1,1.035)" font-size="23" font-weight="bold" text-anchor="end" fill="#000" >0</text>
<line x1="719.00" y1="1591.68" x2="725.00" y2="1591.68" stroke="#000" stroke-width="2.6" stroke-linecap="butt"/>
<text transform="translate(714.80,1599.48) scale(1,1.01)" font-size="23" font-weight="bold" text-anchor="end">2<tspan font-weight="normal" font-size="20" dx="0.6" dy="1.2">×</tspan><tspan dx="2.6" dy="-1.2">10</tspan><tspan font-size="16" dy="-7.6" dx="1.3">6</tspan></text>
<line x1="719.00" y1="1538.45" x2="725.00" y2="1538.45" stroke="#000" stroke-width="2.6" stroke-linecap="butt"/>
<text transform="translate(714.80,1546.25) scale(1,1.01)" font-size="23" font-weight="bold" text-anchor="end">4<tspan font-weight="normal" font-size="20" dx="0.6" dy="1.2">×</tspan><tspan dx="2.6" dy="-1.2">10</tspan><tspan font-size="16" dy="-7.6" dx="1.3">6</tspan></text>
<line x1="719.00" y1="1485.22" x2="725.00" y2="1485.22" stroke="#000" stroke-width="2.6" stroke-linecap="butt"/>
<text transform="translate(714.80,1493.02) scale(1,1.01)" font-size="23" font-weight="bold" text-anchor="end">6<tspan font-weight="normal" font-size="20" dx="0.6" dy="1.2">×</tspan><tspan dx="2.6" dy="-1.2">10</tspan><tspan font-size="16" dy="-7.6" dx="1.3">6</tspan></text>
<line x1="719.00" y1="1432.00" x2="725.00" y2="1432.00" stroke="#000" stroke-width="2.6" stroke-linecap="butt"/>
<text transform="translate(714.80,1439.80) scale(1,1.01)" font-size="23" font-weight="bold" text-anchor="end">8<tspan font-weight="normal" font-size="20" dx="0.6" dy="1.2">×</tspan><tspan dx="2.6" dy="-1.2">10</tspan><tspan font-size="16" dy="-7.6" dx="1.3">6</tspan></text>
<line x1="725.00" y1="1430.80" x2="725.00" y2="1646.20" stroke="#000" stroke-width="2.6" stroke-linecap="butt"/>
<line x1="719.00" y1="1644.90" x2="1045.00" y2="1644.90" stroke="#000" stroke-width="3.2" stroke-linecap="butt"/>
<line x1="773.30" y1="1644.90" x2="773.30" y2="1650.90" stroke="#000" stroke-width="2.5" stroke-linecap="butt"/>
<text transform="translate(772.50,1673.30) scale(1,1.035)" font-size="24" font-weight="bold" text-anchor="middle" fill="#000" >A172</text>
<line x1="847.00" y1="1644.90" x2="847.00" y2="1650.90" stroke="#000" stroke-width="2.5" stroke-linecap="butt"/>
<text transform="translate(846.20,1673.30) scale(1,1.035)" font-size="24" font-weight="bold" text-anchor="middle" fill="#000" >LN229</text>
<line x1="921.20" y1="1644.90" x2="921.20" y2="1650.90" stroke="#000" stroke-width="2.5" stroke-linecap="butt"/>
<text transform="translate(920.40,1673.30) scale(1,1.035)" font-size="24" font-weight="bold" text-anchor="middle" fill="#000" >T98G</text>
<line x1="995.00" y1="1644.90" x2="995.00" y2="1650.90" stroke="#000" stroke-width="2.5" stroke-linecap="butt"/>
<text transform="translate(994.20,1673.30) scale(1,1.035)" font-size="24" font-weight="bold" text-anchor="middle" fill="#000" >U373</text>
<path d="M751.80,1642.90 L751.80,1565.60 L794.80,1565.60 L794.80,1642.90" fill="none" stroke="#E5242A" stroke-width="5.0"/>
<path d="M824.80,1642.90 L824.80,1640.10 L869.40,1640.10 L869.40,1642.90" fill="none" stroke="#E5242A" stroke-width="5.0"/>
<path d="M900.10,1642.90 L900.10,1558.90 L942.30,1558.90 L942.30,1642.90" fill="none" stroke="#E5242A" stroke-width="5.0"/>
<path d="M972.10,1642.90 L972.10,1640.70 L1015.60,1640.70 L1015.60,1642.90" fill="none" stroke="#E5242A" stroke-width="5.0"/>
<line x1="773.30" y1="1513.10" x2="773.30" y2="1610.30" stroke="#E5242A" stroke-width="5.0" stroke-linecap="butt"/>
<line x1="761.10" y1="1513.10" x2="785.50" y2="1513.10" stroke="#E5242A" stroke-width="4.7" stroke-linecap="butt"/>
<line x1="761.10" y1="1610.30" x2="785.50" y2="1610.30" stroke="#E5242A" stroke-width="4.7" stroke-linecap="butt"/>
<line x1="847.10" y1="1633.40" x2="847.10" y2="1641.00" stroke="#E5242A" stroke-width="5.0" stroke-linecap="butt"/>
<line x1="835.20" y1="1633.40" x2="859.00" y2="1633.40" stroke="#E5242A" stroke-width="4.7" stroke-linecap="butt"/>
<line x1="835.20" y1="1641.00" x2="859.00" y2="1641.00" stroke="#E5242A" stroke-width="4.7" stroke-linecap="butt"/>
<line x1="920.80" y1="1496.20" x2="920.80" y2="1614.20" stroke="#E5242A" stroke-width="5.0" stroke-linecap="butt"/>
<line x1="909.40" y1="1496.20" x2="932.20" y2="1496.20" stroke="#E5242A" stroke-width="4.7" stroke-linecap="butt"/>
<line x1="909.40" y1="1614.20" x2="932.20" y2="1614.20" stroke="#E5242A" stroke-width="4.7" stroke-linecap="butt"/>
<line x1="996.00" y1="1633.60" x2="996.00" y2="1641.00" stroke="#E5242A" stroke-width="5.0" stroke-linecap="butt"/>
<line x1="985.00" y1="1633.60" x2="1007.00" y2="1633.60" stroke="#E5242A" stroke-width="4.7" stroke-linecap="butt"/>
<line x1="985.00" y1="1641.00" x2="1007.00" y2="1641.00" stroke="#E5242A" stroke-width="4.7" stroke-linecap="butt"/>
<circle cx="773.70" cy="1507.20" r="4.5" fill="#000"/>
<circle cx="761.10" cy="1540.70" r="4.5" fill="#000"/>
<circle cx="773.70" cy="1544.60" r="4.5" fill="#000"/>
<circle cx="785.50" cy="1534.40" r="4.5" fill="#000"/>
<circle cx="767.80" cy="1622.10" r="4.5" fill="#000"/>
<circle cx="779.60" cy="1622.10" r="4.5" fill="#000"/>
<circle cx="840.70" cy="1632.70" r="4.5" fill="#000"/>
<circle cx="853.50" cy="1632.10" r="4.5" fill="#000"/>
<circle cx="835.20" cy="1639.50" r="4.5" fill="#000"/>
<circle cx="860.30" cy="1635.80" r="4.5" fill="#000"/>
<circle cx="846.00" cy="1639.00" r="4.5" fill="#000"/>
<circle cx="850.00" cy="1641.00" r="4.5" fill="#000"/>
<circle cx="920.40" cy="1498.20" r="4.5" fill="#000"/>
<circle cx="914.50" cy="1514.70" r="4.5" fill="#000"/>
<circle cx="926.30" cy="1510.80" r="4.5" fill="#000"/>
<circle cx="920.40" cy="1554.40" r="4.5" fill="#000"/>
<circle cx="914.50" cy="1627.20" r="4.5" fill="#000"/>
<circle cx="926.30" cy="1627.20" r="4.5" fill="#000"/>
<circle cx="982.70" cy="1636.20" r="4.5" fill="#000"/>
<circle cx="988.00" cy="1636.20" r="4.5" fill="#000"/>
<circle cx="1000.20" cy="1635.40" r="4.5" fill="#000"/>
<circle cx="1006.30" cy="1636.20" r="4.5" fill="#000"/>
<circle cx="990.60" cy="1642.50" r="4.5" fill="#000"/>
<circle cx="997.60" cy="1642.00" r="4.5" fill="#000"/>
<line x1="774.90" y1="1438.20" x2="988.50" y2="1438.20" stroke="#000" stroke-width="4.4" stroke-linecap="butt"/>
<text x="863.35" y="1443.49" font-size="43" font-weight="bold" text-anchor="middle">*</text>
<text x="881.25" y="1443.49" font-size="43" font-weight="bold" text-anchor="middle">*</text>
<line x1="775.70" y1="1478.30" x2="839.80" y2="1478.30" stroke="#000" stroke-width="4.4" stroke-linecap="butt"/>
<text x="797.45" y="1483.59" font-size="43" font-weight="bold" text-anchor="middle">*</text>
<text x="815.35" y="1483.59" font-size="43" font-weight="bold" text-anchor="middle">*</text>
<line x1="851.60" y1="1478.30" x2="913.40" y2="1478.30" stroke="#000" stroke-width="4.4" stroke-linecap="butt"/>
<text x="872.15" y="1483.59" font-size="43" font-weight="bold" text-anchor="middle">*</text>
<text x="890.05" y="1483.59" font-size="43" font-weight="bold" text-anchor="middle">*</text>
<line x1="928.30" y1="1478.30" x2="990.50" y2="1478.30" stroke="#000" stroke-width="4.4" stroke-linecap="butt"/>
<text x="948.55" y="1483.59" font-size="43" font-weight="bold" text-anchor="middle">*</text>
<text x="966.45" y="1483.59" font-size="43" font-weight="bold" text-anchor="middle">*</text>
<text transform="translate(618.40,1534.00) rotate(-90) scale(1,0.97)" x="0" y="0" font-size="26" font-weight="bold" text-anchor="middle" fill="#000">objects / ml</text>
</svg>
</body></html>
